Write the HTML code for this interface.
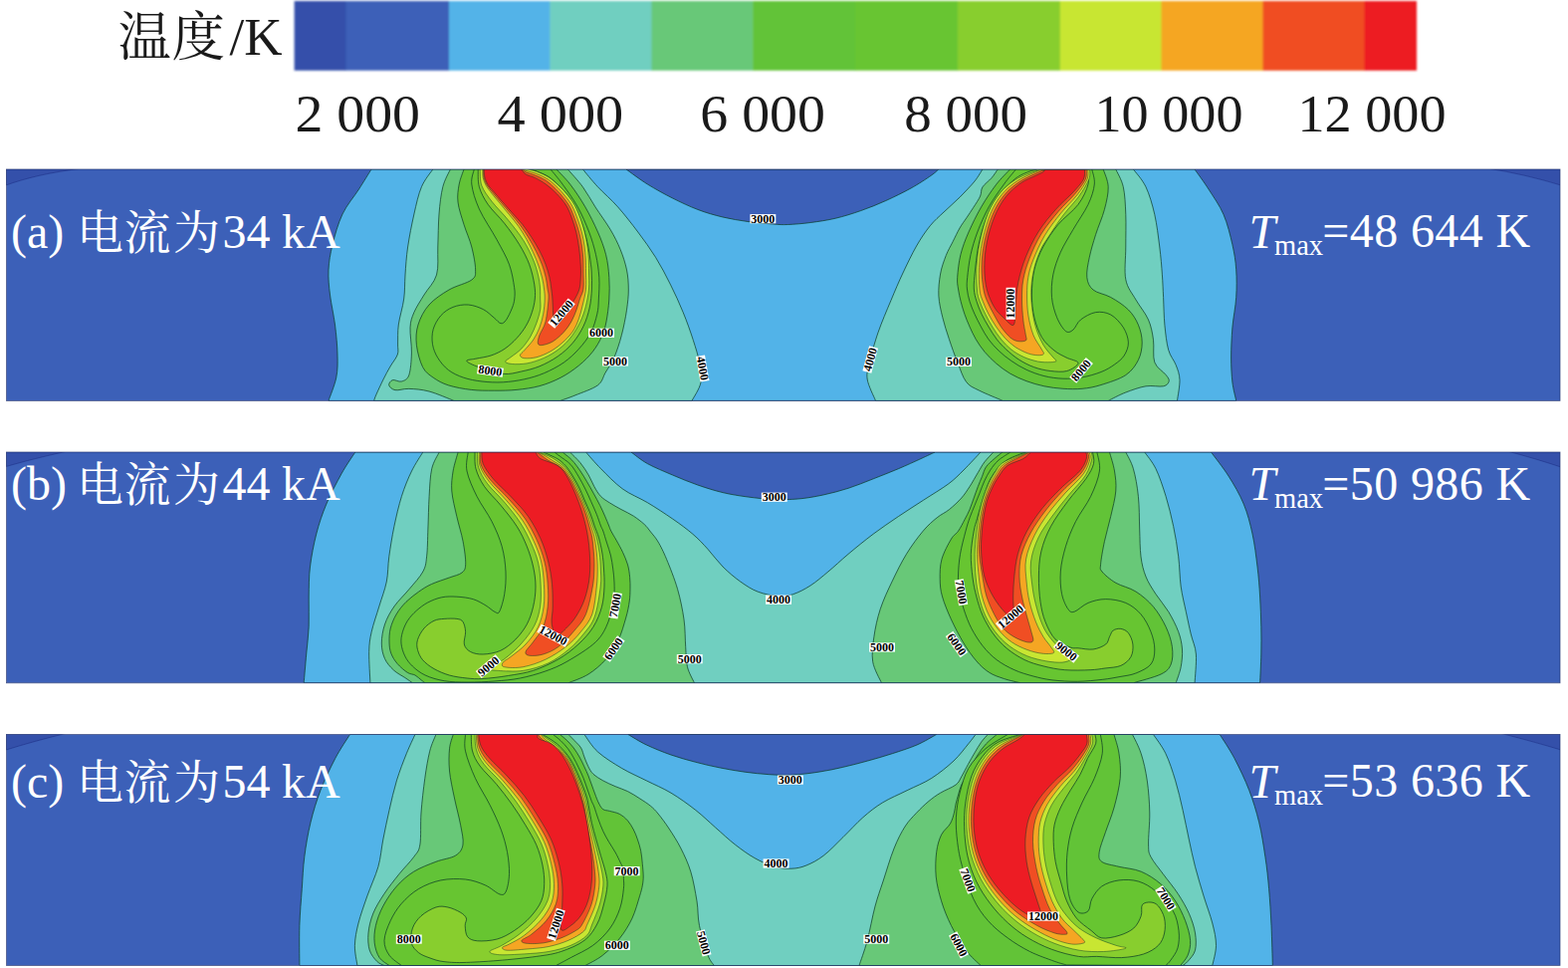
<!DOCTYPE html>
<html><head><meta charset="utf-8"><title>fig</title><style>html,body{margin:0;padding:0;background:#fff}body{width:1575px;height:972px;overflow:hidden;font-family:"Liberation Serif",serif}svg{display:block}text{font-family:"Liberation Serif",serif}</style></head><body>
<svg width="1575" height="972" viewBox="0 0 1575 972">
<defs>
<filter id="bl" x="-5%" y="-20%" width="110%" height="140%"><feGaussianBlur stdDeviation="0.8"/></filter>
</defs>
<rect width="1575" height="972" fill="#fff"/>
<g filter="url(#bl)">
<rect x="295.6" y="1" width="52.5" height="69.8" fill="#3450AA"/>
<rect x="347.6" y="1" width="103.9" height="69.8" fill="#3C60B8"/>
<rect x="451" y="1" width="101.9" height="69.8" fill="#52B3E8"/>
<rect x="552.4" y="1" width="102.6" height="69.8" fill="#70CFC0"/>
<rect x="654.5" y="1" width="102.2" height="69.8" fill="#68C878"/>
<rect x="756.2" y="1" width="103.3" height="69.8" fill="#62C337"/>
<rect x="859" y="1" width="103.4" height="69.8" fill="#67C531"/>
<rect x="961.9" y="1" width="103.4" height="69.8" fill="#88CE2E"/>
<rect x="1064.8" y="1" width="102.2" height="69.8" fill="#C8E632"/>
<rect x="1166.5" y="1" width="102.5" height="69.8" fill="#F5A623"/>
<rect x="1268.5" y="1" width="102.5" height="69.8" fill="#F04E23"/>
<rect x="1370.5" y="1" width="52.5" height="69.8" fill="#ED1C24"/>
</g>
<text x="118.5 172.5" y="56.2" font-size="53.5" fill="#1a1a1a" style="font-family:'Liberation Serif','Noto Serif CJK SC',serif">温度</text>
<text x="230.5" y="54.6" font-size="53" fill="#1a1a1a" xml:space="preserve">/K</text>
<text x="296.5" y="132.4" font-size="53" fill="#1a1a1a" textLength="125.5" lengthAdjust="spacingAndGlyphs" xml:space="preserve">2 000</text>
<text x="499.5" y="132.4" font-size="53" fill="#1a1a1a" textLength="126.8" lengthAdjust="spacingAndGlyphs" xml:space="preserve">4 000</text>
<text x="703.3" y="132.4" font-size="53" fill="#1a1a1a" textLength="125.6" lengthAdjust="spacingAndGlyphs" xml:space="preserve">6 000</text>
<text x="908.2" y="132.4" font-size="53" fill="#1a1a1a" textLength="123.8" lengthAdjust="spacingAndGlyphs" xml:space="preserve">8 000</text>
<text x="1099.5" y="132.4" font-size="53" fill="#1a1a1a" textLength="149" lengthAdjust="spacingAndGlyphs" xml:space="preserve">10 000</text>
<text x="1303.5" y="132.4" font-size="53" fill="#1a1a1a" textLength="149" lengthAdjust="spacingAndGlyphs" xml:space="preserve">12 000</text>
<clipPath id="cp0"><rect x="6.5" y="170" width="1560.5" height="232.4"/></clipPath>
<g clip-path="url(#cp0)">
<rect x="6.5" y="170" width="1560.5" height="232.4" fill="#3C60B8"/>
<path d="M373 170C370.9 173.3 365.3 182.5 360.5 190C355.7 197.5 348.4 205.7 344 215C339.6 224.3 336.3 236.3 334 245.6C331.7 254.9 330.4 262.6 330 271C329.6 279.4 330.4 286.8 331.5 296C332.6 305.2 335.2 316 336.5 326C337.8 336 338.8 347.2 339 356C339.2 364.8 339.3 371.3 337.8 379C336.3 386.7 331.3 398.5 330 402.4L1241.7 402.4C1241.1 399.3 1238.8 391.2 1237.9 384C1237.1 376.8 1236.6 368.2 1236.6 359C1236.6 349.8 1237.1 338.8 1237.9 328.7C1238.8 318.6 1241.1 308.1 1241.7 298.5C1242.3 288.9 1242.3 279.6 1241.7 270.8C1241.1 262 1240 254.8 1237.9 245.6C1235.8 236.4 1233 224.7 1229 215.4C1225 206.1 1218.8 197.6 1214 190C1209.2 182.4 1202.3 173.3 1200 170Z" fill="#52B3E8" stroke="#0b3a26" stroke-width="0.85" stroke-opacity="0.85"/>
<path d="M629 170C632.6 172.5 642.6 180.2 650.4 185C658.2 189.8 667.2 194.8 675.6 199C684 203.2 692.4 207.2 700.8 210.4C709.2 213.6 717.6 216 726 218C734.4 220 742.8 221.3 751.2 222.5C759.6 223.7 769.7 224.5 776.4 225C783.1 225.5 785.2 225.8 791.5 225.5C797.8 225.2 806.2 224.6 814.2 223.5C822.2 222.4 831 221.2 839.4 219.2C847.8 217.2 856.2 214.5 864.6 211.6C873 208.7 881.4 205.3 889.8 201.5C898.2 197.7 907.4 193.2 915 189C922.6 184.8 930.6 179.5 935.2 176.3C939.8 173.1 941.5 171.1 942.7 170Z" fill="#3C60B8" stroke="#0b3a26" stroke-width="0.85" stroke-opacity="0.85"/>
<path d="M434.8 170C432.9 172.9 426.5 180.2 423.4 187.7C420.2 195.2 418.2 204.9 415.9 215C413.6 225.1 411.1 237.8 409.6 248C408.1 258.2 407.6 267.3 407 276C406.4 284.7 406.8 291.7 405.7 300C404.6 308.3 401.3 318.5 400.3 326C399.3 333.5 399.8 340 399.6 345C399.4 350 400.6 352.2 399.3 356C398 359.8 394.4 363.8 392 368C389.6 372.2 387.3 376.3 385 381C382.7 385.7 379.6 392.4 378 396C376.4 399.6 376 401.3 375.6 402.4L695 402.4C696.5 399.4 702.6 390.7 703.9 384.3C705.2 377.9 703.9 371.2 702.6 364.1C701.3 357 699 349.9 696.3 341.5C693.6 333.1 690 322.9 686.2 313.7C682.4 304.4 678.2 295.2 673.6 286C669 276.8 664 267.1 658.5 258.3C653 249.5 647.1 241.4 640.8 233C634.5 224.6 627.4 215.5 620.7 207.9C614 200.3 606.4 194 600.5 187.7C594.6 181.4 587.9 172.9 585.4 170Z" fill="#70CFC0" stroke="#0b3a26" stroke-width="0.85" stroke-opacity="0.85"/>
<path d="M1138.4 170C1140.5 172.9 1147.4 180.1 1151 187.7C1154.6 195.3 1157.5 205.3 1159.8 215.4C1162.1 225.5 1163.5 237.9 1164.8 248C1166.1 258.1 1166.8 267.4 1167.4 275.8C1168 284.2 1168.2 290.1 1168.6 298.5C1169 306.9 1169.1 317.4 1169.9 326.2C1170.8 335 1171.8 344.7 1173.7 351.4C1175.6 358.1 1179.3 361.5 1181.2 366.5C1183.1 371.5 1184.8 375.6 1185 381.6C1185.2 387.6 1182.9 398.9 1182.5 402.4L879.5 402.4C878.1 398.8 872.2 387.4 871.2 381C870.2 374.6 871.6 371.9 873.4 364C875.2 356.1 878.4 344.3 882 333.9C885.6 323.5 890.8 311.5 895 301.5C899.2 291.5 902.7 283.1 907 274C911.3 264.9 916.1 254.9 920.6 247C925.1 239.1 929.7 232.4 934.3 226.7C938.9 221 943 217.8 948 213C953 208.2 958.9 203.2 964 198.1C969.1 192.9 975.1 186.8 978.9 182.1C982.7 177.4 985.6 172 986.9 170Z" fill="#70CFC0" stroke="#0b3a26" stroke-width="0.85" stroke-opacity="0.85"/>
<path d="M452.4 170C451.1 172.9 446.7 180.2 444.8 187.7C442.9 195.2 441.8 204.9 441 215C440.2 225.1 440.2 237.8 439.8 248C439.4 258.2 440.8 268 438.5 276C436.2 284 429.8 289.7 426 296C422.2 302.3 418.2 308.2 415.9 313.6C413.6 319.1 412.4 322 412 328.7C411.6 335.4 413.6 346 413.4 354C413.2 362 412.5 371.8 410.8 376.6C409.1 381.4 406 382.2 403.3 383C400.6 383.8 396.6 381 394.5 381.6C392.4 382.2 390.3 385 390.7 386.7C391.1 388.4 393.6 391.1 397 391.7C400.4 392.3 405.1 390.2 410.8 390.4C416.5 390.6 423.5 391 431 393C438.5 395 451.8 400.8 456 402.4L562.7 402.4C565.2 401.5 571.5 399.5 577.8 396.9C584.1 394.3 595.5 390.6 600.5 386.8C605.5 383 605.4 378.8 608.1 374.2C610.8 369.6 614.2 365.3 616.9 359C619.6 352.7 622.3 344.4 624.4 336.4C626.5 328.4 628.4 318.8 629.5 311.2C630.6 303.6 631.3 297.7 631.3 291C631.3 284.3 630.9 277.6 629.5 270.9C628.1 264.2 625.9 257.4 623.2 250.7C620.5 244 617.3 237.6 613.1 230.5C608.9 223.4 602.6 215 598 207.9C593.4 200.8 590 194 585.4 187.7C580.8 181.4 572.8 172.9 570.3 170Z" fill="#68C878" stroke="#0b3a26" stroke-width="0.85" stroke-opacity="0.85"/>
<path d="M1120.8 170C1122 172.9 1126.6 180.1 1128.3 187.7C1130 195.3 1130.4 205.3 1130.8 215.4C1131.2 225.5 1130.8 237.1 1130.8 248C1130.8 258.9 1129.1 271.9 1130.8 280.7C1132.5 289.5 1137.1 294.2 1140.9 300.9C1144.7 307.6 1150.6 314.3 1153.5 321C1156.4 327.7 1157.5 334.1 1158.5 341.2C1159.5 348.3 1157.7 357.9 1159.8 363.8C1161.9 369.7 1168.7 373.2 1171.1 376.4C1173.5 379.5 1174.6 380.8 1174.2 382.7C1173.8 384.6 1172.5 386.9 1168.6 387.8C1164.7 388.7 1157.3 386.8 1151 387.8C1144.7 388.8 1137.1 391.6 1130.8 394C1124.5 396.4 1116.1 401 1113.2 402.4L1007.3 402.4C1003.3 400.7 989.6 395.2 983.5 392.1C977.4 389 974.2 388.2 970.6 383.5C967 378.8 964.8 371.3 961.9 364.1C959 356.9 955.8 347.9 953.3 340.3C950.8 332.7 948.5 325.9 946.8 318.7C945.1 311.5 943.3 304.5 942.9 297.2C942.5 289.9 943.4 281.8 944.6 275C945.8 268.2 948.2 261.8 950.3 256.4C952.4 251 954.8 247.3 957.1 242.7C959.4 238.1 961.7 233 964 229C966.3 225 968.6 222.1 970.9 218.7C973.2 215.3 975.4 212 977.7 208.4C980 204.8 983.1 200.4 984.6 197C986.1 193.6 985 191 986.9 187.9C988.8 184.8 993.4 181.7 996 178.7C998.6 175.7 1001.2 171.4 1002.3 170Z" fill="#68C878" stroke="#0b3a26" stroke-width="0.85" stroke-opacity="0.85"/>
<path d="M466 170C465.2 172.5 462.2 179.5 461.2 185C460.2 190.5 459.2 196.2 460 203C460.8 209.8 463.7 218 466 225.5C468.3 233 471.9 240.4 473.8 248C475.7 255.6 477.6 265.3 477.6 270.8C477.6 276.3 478.2 277.6 473.8 281C469.4 284.4 458.1 286.8 451 291C443.9 295.2 436.2 300.2 431 306C425.8 311.8 422.1 319.3 420 326C417.9 332.7 417.6 339.3 418.4 346.4C419.2 353.5 421.8 363.1 424.6 368.6C427.4 374.1 430.9 376.1 435.2 379.2C439.5 382.2 444.1 384.9 450.5 386.9C456.9 388.9 465.7 390.5 473.3 391.4C480.9 392.3 488.6 392.2 496.2 392.2C503.8 392.2 511.4 392.2 519 391.4C526.6 390.6 534.5 389.6 541.9 387.6C549.3 385.6 556.6 382.6 563.2 379.2C569.8 375.8 576.2 371.3 581.5 367C586.8 362.7 591.4 358.1 595.2 353.3C599 348.5 602.1 343.1 604.4 338C606.7 332.9 607.8 329.1 609 322.9C610.2 316.7 611.3 308.4 611.8 301C612.3 293.6 612.3 285.9 611.8 278.4C611.3 270.8 610.5 263.3 608.6 255.7C606.7 248.1 604 241 600.5 233C597 225 592.5 215.9 587.9 207.9C583.3 199.9 577.6 191.5 572.8 185.2C568 178.9 561.2 172.5 558.9 170Z" fill="#62C337" stroke="#0b3a26" stroke-width="0.85" stroke-opacity="0.85"/>
<path d="M476.3 170C475.9 172.5 473 178.3 473.8 185C474.6 191.7 477.2 200.7 481.4 210C485.6 219.3 494 231.3 499 240.6C504 249.9 508.7 257.8 511.6 265.8C514.5 273.8 515.7 282.7 516.6 288.4C517.5 294.1 517.1 296.6 516.8 300C516.4 303.4 515.9 305.4 514.5 309C513.1 312.6 510.3 318.7 508.4 321.3C506.5 323.9 505 325.1 503 324.7C501 324.3 499.1 321.3 496.2 319C493.3 316.7 489.8 312.9 485.5 310.7C481.2 308.5 475.4 306.4 470.3 306C465.2 305.6 459.6 306.6 455 308.4C450.4 310.2 446.2 313.1 442.9 316.8C439.6 320.5 436.6 325.7 435.2 330.5C433.8 335.3 433.7 340.9 434.5 345.7C435.3 350.5 437.1 355.1 439.8 359.4C442.5 363.7 446.2 368.3 450.5 371.6C454.8 374.9 460.1 377.3 465.7 379.2C471.3 381.1 477.4 382.2 484 383C490.6 383.8 498.2 384.2 505.3 383.8C512.4 383.4 519.8 382.3 526.7 380.8C533.6 379.3 539.9 377.5 546.5 374.7C553.1 371.9 560.5 368.1 566.3 364C572.1 359.9 576.9 355.4 581.5 350.3C586.1 345.2 590.7 339.4 593.7 333.5C596.8 327.6 598.5 320.6 599.8 315.2C601.1 309.8 601 307.1 601.3 301C601.6 294.9 602.3 285.9 601.8 278.4C601.3 270.8 600.2 263.3 598.5 255.7C596.8 248.1 594.7 241 591.7 233C588.7 225 584.7 215.9 580.3 207.9C575.9 199.9 569.8 191.5 565.2 185.2C560.7 178.9 555 172.5 553 170Z" fill="#67C531" stroke="#0b3a26" stroke-width="0.85" stroke-opacity="0.85"/>
<path d="M480.2 170C480.4 172.9 479.7 181.8 481.4 187.7C483.1 193.6 486 199.2 490.2 205.3C494.4 211.4 501.4 217.5 506.6 224.2C511.9 230.9 517.5 238.7 521.7 245.6C525.9 252.5 529.3 259.1 531.8 265.8C534.3 272.5 535.9 280.2 536.8 285.9C537.7 291.6 537.7 295.4 537.3 300C536.9 304.6 535.8 309.1 534.3 313.7C532.8 318.3 530.8 323.1 528.2 327.4C525.7 331.7 522.5 335.8 519 339.6C515.5 343.4 511.2 347.4 506.9 350.3C502.6 353.2 497.9 355.4 493.1 357C488.3 358.6 481.9 359.3 477.9 360.2C473.8 361.1 468.3 361.1 468.8 362.5C469.3 363.9 474.9 366.5 481 368.6C487.1 370.8 498.2 374.7 505.3 375.4C512.4 376.1 517.5 374.3 523.6 373C529.7 371.7 535.8 370.3 541.9 367.8C548 365.3 554.6 361.8 560.2 357.9C565.8 354 571.1 349.3 575.4 344.2C579.7 339.1 583.3 333.3 586.1 327.4C588.9 321.5 590.8 315.2 592.2 309C593.6 302.8 594.1 296 594.4 290C594.7 284 594.5 278.3 594.2 273C593.9 267.7 593.1 262.5 592.5 258C591.9 253.5 591.4 250.3 590.5 246C589.6 241.7 588.3 236.5 587 232C585.7 227.5 584.2 223.4 582.5 219C580.8 214.6 578.7 209.5 576.5 205.5C574.3 201.5 572.1 198.2 569.5 195C566.9 191.8 564.1 188.9 561 186C557.9 183.1 554.6 179.8 551 177.5C547.4 175.2 542.8 173.4 539.5 172.2C536.2 170.9 532.4 170.4 531 170Z" fill="#88CE2E" stroke="#0b3a26" stroke-width="0.85" stroke-opacity="0.85"/>
<path d="M482.2 170C482.5 172.7 481.9 181 483.9 186.4C485.9 191.8 489.6 196.6 494 202.3C498.4 208.1 505.1 214.3 510.4 220.9C515.7 227.5 521.6 234.7 526 241.8C530.4 248.9 534.1 256.8 536.8 263.7C539.4 270.6 540.9 277.3 541.9 283.4C542.9 289.4 542.6 295.4 542.7 300C542.8 304.6 543.3 306.6 542.7 310.7C542.1 314.8 540.5 319.8 538.9 324.4C537.2 328.9 535.3 333.7 532.8 338C530.2 342.3 526.9 346.9 523.6 350.3C520.3 353.8 515.7 356.6 513 358.7C510.3 360.8 507.4 362.1 507.6 363.2C507.9 364.3 510.8 365.2 514.5 365.5C518.2 365.8 524.4 365.8 529.7 364.8C535 363.8 541.2 361.8 546.5 359.4C551.8 357 557.1 353.9 561.7 350.3C566.3 346.7 570.4 342.6 573.9 338C577.4 333.4 580.6 328 583 322.9C585.4 317.8 587 313.1 588.4 307.6C589.8 302.1 591 295.8 591.5 290C592 284.2 591.5 278 591.5 273C591.5 268 591.5 264.3 591.3 260C591 255.7 590.7 251.4 590 247C589.3 242.6 588.4 237.9 587.3 233.5C586.2 229.1 584.9 224.8 583.3 220.3C581.7 215.8 579.6 210.5 577.5 206.5C575.4 202.5 573.1 199.6 570.5 196.3C567.9 193.1 565.2 190 562 187C558.8 184 555.2 180.7 551.5 178.3C547.8 175.9 543.1 173.9 539.5 172.5C535.9 171.1 531.6 170.4 530 170Z" fill="#C8E632" stroke="#0b3a26" stroke-width="0.6" stroke-opacity="0.8"/>
<path d="M484.8 170C484.9 171.4 484.6 175.8 485.2 178.5C485.8 181.2 486.8 183.8 488.3 186.5C489.8 189.2 492.1 191.8 494.3 194.7C496.6 197.6 498.9 200.3 501.8 203.8C504.7 207.3 508.3 211.6 511.5 215.5C514.7 219.4 518.1 223.3 521 227.5C523.9 231.7 526.6 236.2 529 240.5C531.4 244.8 533.5 249.1 535.5 253.5C537.5 257.9 539.5 262.6 541 267C542.5 271.4 543.9 276.2 544.8 280C545.7 283.8 546.1 286.7 546.5 290C546.9 293.3 547.3 295.8 547.2 300C547.1 304.2 546.6 310.4 545.7 315.2C544.8 320 543.5 324.7 541.9 329C540.2 333.3 538.3 337.2 535.8 341C533.3 344.8 528.9 349.2 526.7 351.8C524.5 354.4 522.4 355.4 522.4 356.7C522.4 358 524 359.4 526.7 359.7C529.5 360 534.6 359.8 538.9 358.7C543.2 357.6 548.3 355.4 552.6 353C556.9 350.6 561 347.6 564.8 344.2C568.6 340.8 572.6 336.9 575.4 332.8C578.2 328.7 579.9 324.3 581.5 319.8C583.1 315.3 584.1 311 585.3 306C586.5 301 588 295.5 588.5 290C589 284.5 588.5 278 588.5 273C588.5 268 588.5 264.3 588.3 260C588 255.7 587.6 251.3 587 247C586.4 242.7 585.6 238.3 584.5 234C583.4 229.7 582.1 225.4 580.5 221C578.9 216.6 577 211.4 575 207.5C573 203.6 570.7 200.7 568.2 197.5C565.7 194.3 563 191.2 560 188.3C557 185.4 553.6 182.1 550 179.8C546.4 177.5 542.1 175.7 538.5 174.3C534.9 172.9 530.6 172.2 528.5 171.5C526.4 170.8 526.4 170.2 526 170Z" fill="#F5A623" stroke="#0b3a26" stroke-width="0.6" stroke-opacity="0.8"/>
<path d="M485.5 170C485.6 171.3 485.4 175.3 486 178C486.6 180.7 487.6 183.3 489.2 186C490.8 188.7 493.1 191.2 495.4 194C497.7 196.8 500.1 199.6 503 203C505.9 206.4 509.7 210.7 513 214.6C516.3 218.5 519.7 222.3 522.8 226.5C525.9 230.7 528.8 235.2 531.4 239.5C534 243.8 536.3 248.1 538.5 252.5C540.7 256.9 542.9 261.6 544.5 266C546.1 270.4 547.4 275 548.3 279C549.2 283 549.5 286.5 550 290C550.5 293.5 551.3 294.5 551 300C550.7 305.5 549.5 316.8 548 322.9C546.5 329 543.2 332.9 541.9 336.6C540.6 340.3 539.9 343.4 540.4 345C540.9 346.6 542.5 346.9 545 346.5C547.5 346.1 552.1 344.9 555.6 342.7C559.1 340.5 563.2 336.8 566.3 333.5C569.3 330.2 571.8 326.7 573.9 322.9C576 319.1 577.8 314.5 579.2 310.7C580.6 306.9 581.4 303.4 582.5 300C583.6 296.6 585.4 294.5 586 290C586.6 285.5 586 278 586 273C586 268 586 264.5 585.8 260.2C585.5 255.9 585.1 251.6 584.5 247.3C583.9 243 583.1 238.8 582 234.5C580.9 230.2 579.6 226 578 221.6C576.4 217.2 574.5 211.8 572.5 208C570.5 204.2 568.4 201.6 566 198.5C563.6 195.4 560.9 192.4 558 189.5C555.1 186.6 551.9 183.6 548.5 181.3C545.1 179.1 540.9 177.4 537.5 176C534.1 174.6 530.1 173.8 528 172.8C525.9 171.8 525.5 170.5 525 170Z" fill="#F04E23" stroke="#0b3a26" stroke-width="0.6" stroke-opacity="0.8"/>
<path d="M486.3 170C486.4 171.3 486.2 175.3 486.9 177.9C487.5 180.5 488.6 183 490.2 185.6C491.8 188.2 494.2 190.5 496.6 193.3C499 196.1 501.3 198.9 504.3 202.3C507.3 205.7 511.2 210 514.6 213.9C518 217.8 521.7 221.4 524.9 225.5C528.1 229.6 531.1 234 533.9 238.3C536.7 242.6 539.2 246.7 541.6 251.2C544 255.7 546.3 260.8 548 265.3C549.7 269.8 550.9 274.1 551.9 278.2C552.9 282.3 553.3 286.4 553.8 290C554.3 293.6 554.6 295.8 554.9 300C555.2 304.2 555.4 310.5 555.6 315.2C555.9 319.9 554.6 327.7 556.4 328.2C558.2 328.7 563.6 321.7 566.3 318.3C569 314.9 570.5 310.7 572.4 307.6C574.3 304.6 575.9 302.9 577.5 300C579.1 297.1 581 293.7 582 290C583 286.3 583.1 282.1 583.3 278C583.5 273.9 583.5 270.3 583.2 265.6C582.9 260.9 582.4 254.9 581.7 249.6C581 244.3 580.1 238.8 578.9 233.6C577.7 228.4 576 223.3 574.3 218.7C572.6 214.1 571.1 210.1 568.6 206.1C566.1 202.1 562.6 198.1 559.4 194.7C556.1 191.3 552.7 188.3 549.1 185.6C545.5 182.9 541.1 180.4 537.7 178.7C534.3 177 530.8 176.5 528.6 175.3C526.4 174.1 525.3 172.2 524.6 171.3C523.9 170.4 524.3 170.2 524.2 170Z" fill="#ED1C24" stroke="#0b3a26" stroke-width="0.6" stroke-opacity="0.8"/>
<path d="M1108.2 170C1109 172.9 1113 181 1113.2 187.7C1113.4 194.4 1111.5 202.4 1109.4 210.4C1107.3 218.4 1103.1 227.5 1100.6 235.5C1098.1 243.5 1095.8 251 1094.3 258.2C1092.8 265.3 1091.2 272.9 1091.8 278.4C1092.4 283.9 1094 287.6 1098 291C1102 294.4 1109.8 295.2 1115.7 298.5C1121.6 301.8 1128.8 306.4 1133.4 311C1138 315.6 1141.1 320.7 1143.4 326.2C1145.7 331.7 1147.2 338 1147.2 343.9C1147.2 349.8 1146.1 356.1 1143.4 361.5C1140.7 366.9 1137 372.4 1130.8 376.6C1124.6 380.8 1113.3 384.2 1106 386.5C1098.7 388.8 1093.3 389.7 1087 390.3C1080.7 390.9 1074.2 390.7 1067.9 390.3C1061.6 389.9 1055 389.1 1048.9 387.8C1042.8 386.5 1036.8 384.8 1031.1 382.7C1025.4 380.6 1019.7 378.1 1014.6 375.1C1009.5 372.1 1004.8 368.5 1000.6 364.9C996.4 361.3 992.6 357.5 989.2 353.5C985.8 349.5 982.8 345 980.3 340.8C977.8 336.6 975.9 332.3 974 328.1C972.1 323.9 970.4 319.6 968.9 315.4C967.4 311.2 966.2 306.9 965.1 302.7C964 298.5 963.1 294.1 962.5 290C961.9 285.9 961.3 284.1 961.7 278.4C962.1 272.7 963 263.3 964.9 255.7C966.8 248.1 969.5 241 973 233C976.5 225 981 215.9 985.6 207.9C990.2 199.9 995.9 191.5 1000.7 185.2C1005.5 178.9 1012.3 172.5 1014.6 170Z" fill="#62C337" stroke="#0b3a26" stroke-width="0.85" stroke-opacity="0.85"/>
<path d="M1096.8 170C1097.2 172.5 1099.9 179.1 1099.3 185C1098.7 190.9 1096.6 197.7 1093 205.3C1089.4 212.9 1082.5 222.5 1077.9 230.5C1073.3 238.5 1068.7 245.6 1065.3 253.2C1061.9 260.8 1059.3 268.2 1057.8 275.8C1056.3 283.4 1055.9 291.4 1056.5 298.5C1057.1 305.6 1059.3 313 1061.6 318.7C1063.9 324.4 1067.7 330.4 1070.4 332.5C1073.1 334.6 1075.4 333.1 1077.9 331.2C1080.4 329.3 1081.7 323.9 1085.5 321C1089.3 318.1 1095.6 314.4 1100.6 313.6C1105.6 312.8 1111.1 313.5 1115.7 316C1120.3 318.5 1125.3 324.1 1128.3 328.7C1131.2 333.3 1133.2 339.1 1133.4 343.8C1133.6 348.5 1131.5 353.3 1129.2 357C1126.9 360.7 1123.4 363.2 1119.5 366C1115.6 368.8 1111.4 371.4 1106 373.5C1100.6 375.6 1093.3 377.8 1087 378.9C1080.7 380 1074.2 380.4 1067.9 380.2C1061.6 380 1055 379.1 1048.9 377.6C1042.8 376.1 1036.6 373.8 1031.1 371.3C1025.6 368.8 1020.5 365.6 1015.9 362.4C1011.2 359.2 1007 355.8 1003.2 352.2C999.4 348.6 996 344.8 993 340.8C990 336.8 987.7 332.3 985.4 328.1C983.1 323.9 980.9 319.6 979 315.4C977.1 311.2 975.3 306.9 974 302.7C972.7 298.5 971.8 294.1 971.4 290C971 285.9 971.1 284.1 971.7 278.4C972.3 272.7 973.3 263.3 975 255.7C976.7 248.1 978.8 241 981.8 233C984.8 225 988.8 215.9 993.2 207.9C997.6 199.9 1003.8 191.5 1008.3 185.2C1012.8 178.9 1018.5 172.5 1020.5 170Z" fill="#67C531" stroke="#0b3a26" stroke-width="0.85" stroke-opacity="0.85"/>
<path d="M1091.8 170C1092 172.5 1094.5 179.1 1093 185C1091.5 190.9 1088 198.6 1083 205.3C1078 212.1 1068.7 218.4 1062.8 225.5C1056.9 232.6 1051.7 240.4 1047.7 248C1043.7 255.6 1040.8 262.8 1038.9 270.8C1037 278.8 1036.4 288 1036.4 296C1036.4 304 1037.2 311.6 1038.9 318.7C1040.6 325.8 1043.2 333.2 1046.5 338.8C1049.8 344.4 1054.9 348.6 1059 352C1063.1 355.4 1067 356.9 1071 359C1075 361.1 1082.9 362.2 1083 364.5C1083.1 366.8 1076.3 371.2 1071.7 372.5C1067.1 373.8 1060.7 373.1 1055.2 372.5C1049.7 371.9 1044 370.6 1038.7 368.7C1033.4 366.8 1028.2 364.1 1023.5 361.1C1018.9 358.2 1014.5 354.4 1010.8 351C1007.1 347.6 1004.3 344.6 1001.3 340.8C998.3 337 995.5 332.3 993 328.1C990.5 323.9 988 319.6 986 315.4C984 311.2 982.3 306.9 981 302.7C979.7 298.5 978.6 294.9 978.3 290C978 285.1 978.8 278.3 979.3 273C979.8 267.7 980.4 262.5 981 258C981.6 253.5 982.1 250.3 983 246C983.9 241.7 985.2 236.5 986.5 232C987.8 227.5 989.2 223.4 991 219C992.8 214.6 994.8 209.5 997 205.5C999.2 201.5 1001.4 198.2 1004 195C1006.6 191.8 1009.4 188.9 1012.5 186C1015.6 183.1 1018.9 179.8 1022.5 177.5C1026.1 175.2 1030.7 173.4 1034 172.2C1037.3 170.9 1041.1 170.4 1042.5 170Z" fill="#88CE2E" stroke="#0b3a26" stroke-width="0.85" stroke-opacity="0.85"/>
<path d="M1094.6 170.5C1094.5 172.1 1095.6 175.7 1093.8 180.1C1092 184.5 1088 191.2 1083.7 197.2C1079.4 203.2 1073.2 209.1 1068.1 215.9C1063 222.7 1056.8 232.2 1053 238C1049.2 243.8 1047.7 245.5 1045.4 250.6C1043.1 255.7 1040.7 262 1039.1 268.3C1037.5 274.6 1036.3 281.7 1035.9 288.4C1035.5 295.1 1035.8 301.9 1036.6 308.6C1037.3 315.3 1038.5 322.4 1040.4 328.7C1042.3 335 1045.1 341.3 1048 346.4C1050.9 351.4 1055.8 356.3 1058 359C1060.2 361.7 1061.5 361.6 1061 362.4C1060.5 363.2 1058.3 363.6 1055.2 363.7C1052.1 363.8 1046.9 363.9 1042.5 363C1038.1 362.1 1033 360.6 1028.6 358.6C1024.2 356.6 1019.7 354 1015.9 351C1012.1 348 1008.9 344.6 1005.7 340.8C1002.5 337 999.4 332.3 996.8 328.1C994.1 323.9 991.9 319.6 989.8 315.4C987.7 311.2 985.5 306.8 984.1 302.7C982.7 298.6 982 296.7 981.5 291C981 285.3 980.5 276.3 981 268.3C981.5 260.3 982.3 252.1 984.2 243.1C986.1 234.1 989.1 222.3 992.5 214.1C995.9 205.9 999.8 199.4 1004.6 193.7C1009.4 187.9 1014.9 183.5 1021.5 179.6C1028.1 175.7 1040.4 172 1044.2 170.5Z" fill="#C8E632" stroke="#0b3a26" stroke-width="0.6" stroke-opacity="0.8"/>
<path d="M1092.8 170.5C1092.7 172.1 1093.8 175.9 1092 180.1C1090.2 184.3 1086.4 190 1082 195.7C1077.6 201.4 1071.1 207.2 1065.6 214.1C1060.1 220.9 1053.8 229 1049.2 236.8C1044.6 244.6 1040.6 253.8 1037.9 260.7C1035.2 267.6 1033.8 272.5 1032.8 278.4C1031.8 284.3 1031.6 289.7 1031.6 296C1031.6 302.3 1031.8 309.4 1032.8 316.1C1033.8 322.8 1035.7 330.6 1037.9 336.3C1040.1 342 1044.2 346.9 1045.9 350.1C1047.6 353.3 1048.9 354.3 1048.3 355.4C1047.7 356.5 1045.2 356.8 1042.5 356.7C1039.8 356.6 1036.2 356.2 1032.4 354.8C1028.6 353.4 1023.5 350.9 1019.7 348.4C1015.9 345.8 1012.7 342.9 1009.5 339.5C1006.3 336.1 1003.4 332.1 1000.6 328.1C997.9 324.1 995.2 319.6 993 315.4C990.8 311.2 988.8 306.8 987.3 302.7C985.8 298.6 984.6 296.7 984 291C983.4 285.3 983.1 276.3 983.5 268.3C983.9 260.3 984.6 251.9 986.5 243.1C988.4 234.3 991.3 223.4 994.6 215.4C997.9 207.4 1001.7 200.9 1006.4 195.2C1011.1 189.5 1016.3 185.2 1022.8 181.1C1029.3 177 1041.6 172.3 1045.4 170.5Z" fill="#F5A623" stroke="#0b3a26" stroke-width="0.6" stroke-opacity="0.8"/>
<path d="M1091.3 170.5C1091.1 172.1 1092.1 176.2 1090.3 180.1C1088.5 184 1084.7 188.8 1080.2 194.2C1075.7 199.6 1068.8 205.6 1063.1 212.4C1057.4 219.2 1050.7 227.2 1045.9 235C1041.1 242.8 1037.1 251.8 1034.1 259.5C1031.1 267.1 1029.1 274 1027.8 280.9C1026.5 287.8 1026.5 294.3 1026.5 301C1026.5 307.7 1027.2 315.3 1027.8 321.2C1028.4 327.1 1029.8 332.9 1030.3 336.3C1030.8 339.7 1031.8 340.8 1030.5 341.8C1029.2 342.9 1024.9 343.1 1022.2 342.6C1019.6 342.1 1017.4 341.2 1014.6 338.8C1011.9 336.4 1008.5 332.4 1005.7 328.5C1003 324.6 1000.4 319.7 998.1 315.4C995.8 311.1 993.4 306.8 991.7 302.7C990 298.6 989 296.7 988 291C987 285.3 985.9 276.3 986 268.3C986.1 260.3 987 251.7 988.8 243.1C990.6 234.5 993.4 224.4 996.6 216.6C999.8 208.8 1003.6 202.2 1008.2 196.5C1012.8 190.8 1017.6 186.8 1024 182.6C1030.4 178.4 1042.9 173.2 1046.7 171.3Z" fill="#F04E23" stroke="#0b3a26" stroke-width="0.6" stroke-opacity="0.8"/>
<path d="M1089.5 170.5C1089.3 172.1 1090.2 176.4 1088.3 180.1C1086.4 183.8 1082.8 187.7 1078.2 192.7C1073.6 197.7 1066.4 203.6 1060.5 210.3C1054.6 217 1047.9 225 1042.9 233C1037.9 241 1033.7 249.8 1030.3 258.2C1026.9 266.6 1024.5 275.4 1022.8 283.4C1021.1 291.4 1021 299 1020.2 306.1C1019.4 313.2 1020.3 324.1 1018.2 326.2C1016.1 328.3 1010.9 321.6 1007.7 318.7C1004.5 315.8 1001.5 313.2 998.8 308.6C996.1 304 993 297.6 991.3 290.9C989.6 284.2 988.8 276.3 988.8 268.3C988.8 260.3 989.6 251.5 991.3 243.1C993 234.7 995.6 225.5 998.8 217.9C1001.9 210.3 1005.8 203.4 1010.2 197.7C1014.6 192 1020.3 187.5 1025.3 183.9C1030.3 180.3 1036.6 178.2 1040.4 176.3C1044.2 174.4 1046.5 173.6 1048 172.6C1049.5 171.6 1049 170.8 1049.2 170.5Z" fill="#ED1C24" stroke="#0b3a26" stroke-width="0.6" stroke-opacity="0.8"/>
<path d="M6 169H83C50 173 25 179 6 186Z" fill="#3450AA" stroke="#1a2a80" stroke-width="0.7" stroke-opacity=".7"/>
<path d="M1568 169H1494C1520 173 1545 179 1568 186Z" fill="#3450AA" stroke="#1a2a80" stroke-width="0.7" stroke-opacity=".7"/>
</g>
<rect x="6.5" y="170" width="1560.5" height="232.4" fill="none" stroke="#1c2c6a" stroke-width="0.8" stroke-opacity="0.8"/>
<text x="11" y="248.5" font-size="48" fill="#fff" xml:space="preserve">(a)</text>
<text x="77 124.5 174" y="249.7" font-size="47" fill="#fff" style="font-family:'Liberation Serif','Noto Serif CJK SC',serif">电流为</text>
<text x="223.5" y="248.5" font-size="48" fill="#fff" xml:space="preserve">34</text>
<text x="283" y="248.5" font-size="48" fill="#fff" xml:space="preserve">kA</text>
<text x="1254.5" y="248.5" font-size="48" fill="#fff" font-style="italic" xml:space="preserve">T</text>
<text x="1280" y="256.1" font-size="28.5" fill="#fff" xml:space="preserve">max</text>
<text x="1328.3" y="248" font-size="48" fill="#fff" letter-spacing="0.38" xml:space="preserve">=48 644 K</text>
<clipPath id="cp1"><rect x="6.5" y="454" width="1560.5" height="231.8"/></clipPath>
<g clip-path="url(#cp1)">
<rect x="6.5" y="454" width="1560.5" height="231.8" fill="#3C60B8"/>
<path d="M356.8 454C354.5 457.6 347.8 467 343 475.7C338.2 484.4 332.1 495.9 327.9 506C323.7 516 320.5 525.5 317.8 536C315.1 546.5 312.8 558.5 311.5 569C310.2 579.5 310.4 588.9 310.2 599C310 609.1 310.6 619.7 310.2 629.4C309.8 639.1 308.5 647.6 307.7 657C306.9 666.4 305.6 681 305.2 685.8L1265.6 685.8C1265.8 681 1266.6 666.4 1266.8 657C1267 647.6 1267 639.1 1266.8 629.4C1266.6 619.7 1266.2 609.1 1265.6 599C1265 588.9 1264.3 579.5 1263 569C1261.7 558.5 1260.3 546.5 1258 536C1255.7 525.5 1253.2 515.7 1249.2 506C1245.2 496.3 1239.5 486.7 1234 478C1228.5 469.3 1219.4 458 1216.5 454Z" fill="#52B3E8" stroke="#0b3a26" stroke-width="0.85" stroke-opacity="0.85"/>
<path d="M634 454C636.7 455.9 643.5 461.8 650.4 465.6C657.3 469.4 667.2 473.4 675.6 477C684 480.6 692.4 484.1 700.8 487C709.2 489.9 717.6 492.6 726 494.6C734.4 496.6 742.8 497.9 751.2 499C759.6 500.1 768 501.1 776.4 501.4C784.8 501.7 793.2 501.7 801.6 501C810 500.3 818.4 498.8 826.8 497C835.2 495.2 843.6 493 852 490.3C860.4 487.6 868.8 484.1 877.2 480.8C885.6 477.5 894.4 474.1 902.4 470.7C910.4 467.3 918.9 463.4 925 460.6C931.1 457.8 936.7 455.1 939 454Z" fill="#3C60B8" stroke="#0b3a26" stroke-width="0.85" stroke-opacity="0.85"/>
<path d="M424.8 454C422.9 457.2 417.1 465.6 413.5 473C409.9 480.4 406.3 489.1 403.4 498.4C400.5 507.7 398 518.5 395.9 528.6C393.8 538.7 392.1 549.6 390.8 558.8C389.5 568 390 575.6 388.3 584C386.6 592.4 383.3 600.6 380.8 609C378.3 617.4 374.9 626.8 373.2 634.4C371.5 642 370.9 645.9 370.7 654.5C370.5 663.1 371.7 680.6 371.9 685.8L1200.1 685.8C1200.3 681 1202 665.1 1201.4 657C1200.8 648.9 1198 644.1 1196.3 637C1194.6 629.9 1193 622.2 1191.3 614.2C1189.6 606.2 1187.5 598.2 1186.2 589C1184.9 579.8 1185 568.9 1183.7 558.8C1182.5 548.7 1180.8 538.7 1178.7 528.6C1176.6 518.5 1174 508 1171.1 498.4C1168.1 488.8 1164.6 478.1 1161 470.7C1157.4 463.3 1151.6 456.8 1149.7 454L985 454C982.2 457 973.4 466.7 968 472C962.6 477.3 959.5 480.8 952.8 485.8C946.1 490.8 936 496.7 927.6 502.2C919.2 507.7 910.8 512.9 902.4 518.6C894 524.3 885.6 529.9 877.2 536.2C868.8 542.5 859.5 550.1 852 556.4C844.5 562.7 838.2 568.8 831.9 574C825.6 579.2 820.1 584.1 814.2 587.9C808.3 591.7 802.1 594.9 796.6 596.7C791.1 598.5 787.4 598.9 781.5 598.5C775.6 598.1 767.6 596.6 761.3 594.2C755 591.8 749.6 588.2 743.7 584C737.8 579.8 731.5 574.5 726 569C720.5 563.5 715.9 556.8 710.9 551.3C705.9 545.8 701.7 541.2 695.8 536.2C689.9 531.2 683.2 526.2 675.6 521C668 515.8 658.8 509.7 650.4 504.7C642 499.7 633 496.5 625.2 490.8C617.4 485.1 609.7 476.8 603.6 470.7C597.5 464.6 591 456.8 588.5 454Z" fill="#70CFC0" stroke="#0b3a26" stroke-width="0.85" stroke-opacity="0.85"/>
<path d="M441.2 454C439.9 456.8 435.4 463.3 433.7 470.7C432 478.1 431.7 488.3 431.1 498.4C430.5 508.4 430.3 520.9 429.9 531C429.5 541.1 429.5 551.6 428.6 558.8C427.8 566 427.7 568.5 424.8 574C421.9 579.5 415.8 585.8 411 591.6C406.2 597.4 400 603.1 395.9 609C391.8 614.9 388.6 620.8 386.5 627C384.4 633.2 383.3 640.3 383.3 646C383.3 651.7 384.5 656.9 386.5 661.4C388.5 665.9 392 669.7 395.4 672.9C398.8 676.1 403.6 678.4 406.8 680.5C410 682.6 413.1 684.9 414.4 685.8L697.5 685.8C696.3 683.1 692 675.8 690.5 669.8C689 663.8 689.3 657.6 688.7 649.6C688.1 641.6 688.4 631.6 687 621.9C685.6 612.2 683.5 601.7 680.6 591.6C677.7 581.5 672.8 569.3 669.5 561.4C666.2 553.5 663.7 548.6 661 544C658.3 539.4 655.8 536.9 653.5 534C651.2 531.1 650 529 647.1 526.4C644.2 523.8 640.2 520.7 636.4 518.2C632.6 515.7 628.1 513.8 624.1 511.6C620.1 509.4 616 507.2 612.6 505C609.2 502.8 606.1 501.1 603.5 498.4C600.9 495.7 598.9 492.2 596.9 488.6C594.9 485 593.5 481 591.2 477C588.9 473 586 468.5 582.9 464.7C579.8 460.9 574.2 455.8 572.5 454Z" fill="#68C878" stroke="#0b3a26" stroke-width="0.85" stroke-opacity="0.85"/>
<path d="M1130.8 454C1132.1 456.8 1136.3 463.3 1138.4 470.7C1140.5 478.1 1142.4 488.3 1143.4 498.4C1144.5 508.4 1144.3 520.9 1144.7 531C1145.1 541.1 1145 550.8 1146 558.8C1147 566.8 1148.5 572.7 1151 579C1153.5 585.3 1157.2 590.7 1161 596.6C1164.8 602.5 1169.9 607.9 1173.7 614.2C1177.5 620.5 1181.4 628.1 1183.7 634.4C1186 640.7 1187.1 646.1 1187.5 652C1187.9 657.9 1187.2 664.1 1186.2 669.7C1185.2 675.3 1182 683.1 1181.2 685.8L885.5 685.8C884 682.3 878 672.3 876.7 664.6C875.4 656.9 876.6 648.2 877.9 639.4C879.1 630.6 881.2 620.9 884.2 611.7C887.2 602.5 891.6 593.2 896 584C900.4 574.8 905.3 564.8 910.5 556.3C915.7 547.8 922.1 539.3 927.2 533.2C932.3 527.1 936.8 523.4 941.2 519.8C945.6 516.2 949.4 514.9 953.5 511.6C957.6 508.3 962.4 503.8 965.8 500C969.2 496.2 971.2 492.8 974 488.6C976.8 484.4 979.8 478.7 982.3 474.6C984.8 470.5 986.3 467.3 988.9 463.9C991.5 460.5 996.4 455.6 997.9 454Z" fill="#68C878" stroke="#0b3a26" stroke-width="0.85" stroke-opacity="0.85"/>
<path d="M460.1 454C459.3 457.2 456.2 466.5 455.1 473C454.1 479.5 453.2 485.4 453.8 493C454.4 500.6 456.9 510.1 458.8 518.5C460.7 527 463.6 535.7 465.1 543.7C466.6 551.7 467.9 561.2 467.7 566.4C467.5 571.6 466.7 572.7 464 575C461.3 577.3 456.4 578.1 451.3 580C446.2 581.9 438.6 584.2 433.5 586.5C428.4 588.8 425.1 591 420.8 594C416.6 597 411.8 600.5 408 604.3C404.2 608.1 400.6 612.5 398 617C395.4 621.5 393.4 626.3 392.2 631C391 635.7 390.9 640.8 391 645C391.1 649.2 391.5 652.7 392.9 656.3C394.3 659.9 396.4 663.3 399.2 666.5C401.9 669.7 406.4 673.5 409.4 675.4C412.4 677.3 414.7 676.7 417 678C419.3 679.3 421.6 681.7 423.3 683C425 684.3 426.4 685.3 427 685.8L570.8 685.8C574.2 684.3 584.7 681 591 677C597.3 673 603.6 667.7 608.6 662C613.6 656.3 617.6 650 621 643C624.4 636 626.9 626.5 628.8 620C630.7 613.5 631.5 608.7 632.2 604C632.9 599.3 632.9 595.8 633 591.7C633.1 587.6 633 583.5 632.6 579.4C632.2 575.3 631.7 571.1 630.5 567C629.3 562.9 627.5 558.8 625.6 554.7C623.7 550.6 621 545.9 619 542.3C617 538.7 615 535.6 613.8 533.2C612.6 530.8 612.7 530.6 611.7 528.1C610.7 525.6 609.1 521.6 607.6 518.2C606.1 514.8 604.6 511.3 602.7 507.5C600.8 503.7 598.3 499.2 596.1 495.2C593.9 491.2 591.7 487.3 589.5 483.6C587.3 479.9 585.4 476.5 582.9 472.9C580.4 469.3 577.4 465.1 574.7 462.2C572 459.2 568.1 456.6 566.5 455.2C564.9 453.8 565.2 454.2 565 454Z" fill="#62C337" stroke="#0b3a26" stroke-width="0.85" stroke-opacity="0.85"/>
<path d="M470.2 454C470 457.2 467.5 465.6 469 473C470.5 480.4 474.8 490 479 498.4C483.2 506.8 489.8 515.2 494 523.6C498.2 532 501.9 540.4 504.2 548.8C506.5 557.2 507.6 566 508 574C508.4 582 507.8 589.9 506.7 596.6C505.6 603.3 503.3 611 501.7 614C500.1 617 499.3 615.4 497 614.4C494.7 613.4 491.6 610.1 488 608C484.4 605.9 480.2 603.2 475.4 601.7C470.5 600.2 464.2 599.5 458.9 599.2C453.6 598.9 448.6 598.8 443.7 599.8C438.8 600.8 433.9 602.8 429.7 605C425.5 607.2 421.7 610.2 418.3 613.2C414.9 616.2 411.7 619.7 409.4 623.3C407.1 626.9 405.4 631 404.3 634.8C403.2 638.6 402.6 642.2 403 646.2C403.4 650.2 404.9 655.1 406.8 658.9C408.7 662.7 411 665.8 414.4 669C417.8 672.2 421.8 675.5 427.1 678C432.4 680.5 439.1 682.5 446.2 683.7C453.3 684.9 461.5 685 470 685C478.5 685 488.3 684.7 497 684C505.7 683.3 513.9 682.7 522.4 681C530.9 679.3 539.9 676.8 547.8 674C555.7 671.2 561.5 668.9 570 664C578.5 659.1 591.7 651.1 598.5 644.5C605.3 637.9 608 631.7 611 624.3C614 616.9 615.5 606.5 616.5 600C617.5 593.5 617.1 589.8 617 585C616.9 580.2 616.3 575.5 615.7 571C615.1 566.5 614.5 562.3 613.5 558C612.5 553.7 610.8 549.1 609.5 545C608.2 540.9 606.8 536 605.8 533.2C604.8 530.4 604.6 530.9 603.5 528.1C602.4 525.3 601 520.7 599.4 516.6C597.8 512.5 595.5 507.7 593.6 503.4C591.7 499.1 590 495.1 587.9 491C585.8 486.9 583.8 482.8 581.3 478.7C578.8 474.6 576.2 469.7 573 466.3C569.8 462.9 565 460.2 562.3 458.1C559.6 456.1 557.9 454.7 557 454Z" fill="#67C531" stroke="#0b3a26" stroke-width="0.85" stroke-opacity="0.85"/>
<path d="M477 454C477.2 456.8 476.4 465 478 470.7C479.6 476.4 482.3 482.2 486.4 488.3C490.5 494.4 497.3 500.5 502.8 507.2C508.3 513.9 514.8 521.7 519.2 528.6C523.6 535.5 526.6 542.1 529.3 548.8C532 555.5 534.1 562.3 535.6 569C537.1 575.7 538 582.3 538 589C538 595.7 537.1 602.9 535.6 609.2C534.1 615.5 532.2 621.3 529.3 626.8C526.3 632.3 522.3 637.6 517.9 642C513.5 646.4 508.2 650.8 502.8 653.3C497.4 655.8 490.2 656.8 485.2 657C480.2 657.2 475.8 656.2 472.6 654.5C469.5 652.8 467.1 650.4 466.3 647C465.5 643.6 467.8 638.2 467.6 634.4C467.4 630.6 466.4 626.6 465 624.4C463.6 622.2 462 621.9 458.9 621.4C455.8 620.9 450 621.1 446.2 621.4C442.4 621.7 439.4 621.7 436 623.3C432.6 624.9 428.6 627.8 425.9 631C423.1 634.2 420.6 638.8 419.5 642.4C418.4 646 418.6 649.1 419.5 652.5C420.4 655.9 421.9 659.5 424.6 662.7C427.4 665.9 431.6 669.1 436 671.6C440.4 674.1 445.8 676.4 451.3 678C456.8 679.6 463.4 680.4 469 681C474.6 681.6 478.1 681.9 485 681.5C491.9 681.1 502 679.9 510.4 678.5C518.8 677.1 527.2 676.1 535.6 673.4C544 670.6 553.2 666.4 560.8 662C568.3 657.6 575 652.4 580.9 647C586.8 641.6 592.1 635.7 596 629.4C599.9 623.1 602.7 615.9 604.5 609.2C606.3 602.5 606.7 595.4 607 589C607.3 582.6 606.8 576.5 606.5 571C606.2 565.5 605.8 561.2 605 556C604.2 550.8 602.8 544.7 601.5 540C600.2 535.3 598.7 532.2 597.2 528C595.8 523.8 594.5 519.3 592.8 515C591.1 510.7 588.9 506.2 587.1 502C585.3 497.8 583.8 493.7 582 490C580.2 486.3 578.5 483.3 576.5 480C574.5 476.7 572.4 473 570 470C567.6 467 564.8 464.1 562 462C559.2 459.9 555.7 458.6 553 457.3C550.3 456 546.8 454.6 545.6 454Z" fill="#88CE2E" stroke="#0b3a26" stroke-width="0.85" stroke-opacity="0.85"/>
<path d="M479.6 454C479.8 456.6 479 464.1 480.7 469.4C482.4 474.7 485.4 480.1 489.7 485.8C494 491.6 500.8 497.4 506.3 503.9C511.8 510.4 518 517.8 522.5 524.8C527 531.8 530.6 539 533.6 545.7C536.6 552.4 539 558.3 540.6 565.1C542.2 571.9 542.8 579.1 543.1 586.5C543.4 593.9 543.7 602.3 542.6 609.2C541.5 616.1 539.9 622 536.8 628.1C533.7 634.2 529 640.2 524.2 645.7C519.4 651.2 513.1 656.6 507.9 660.8C502.6 665 494 668.8 492.7 670.9C491.4 673 494.8 673 500.3 673.4C505.8 673.8 517.1 674.6 525.5 673.4C533.9 672.1 543.2 669.4 550.7 665.9C558.2 662.4 564.9 657.3 570.8 652.5C576.7 647.7 581.5 642.4 585.9 636.9C590.3 631.4 594.4 627.3 597.3 619.3C600.2 611.3 602.2 597 603.2 589C604.2 581 603.5 576.5 603.3 571C603.1 565.5 602.9 561.2 602.2 556C601.5 550.8 600.4 544.7 599.3 540C598.2 535.3 596.8 532.2 595.4 528C594 523.8 592.8 519.3 591.2 515C589.6 510.7 587.5 506.2 585.7 502C583.9 497.8 582.2 493.7 580.4 490C578.6 486.3 577 483.3 575 480C573 476.7 570.9 473 568.1 470C565.3 467 561.2 464.1 558.2 462C555.2 459.9 553 458.8 550.1 457.5C547.2 456.2 542.2 454.6 540.6 454Z" fill="#C8E632" stroke="#0b3a26" stroke-width="0.6" stroke-opacity="0.8"/>
<path d="M481.4 454C481.5 456.4 480.5 463.2 482.2 468.2C483.9 473.2 487.1 478.1 491.5 483.8C495.9 489.5 502.8 495.7 508.4 502.2C514 508.7 520.4 515.9 525 522.8C529.6 529.7 533.2 536.9 536.3 543.7C539.4 550.6 541.9 556.8 543.6 563.9C545.3 571 546 579 546.4 586.5C546.8 594 547.1 602.1 546.1 609.2C545.1 616.4 543.6 623.1 540.6 629.4C537.6 635.7 532.6 642 528 647C523.4 652 516.7 656.6 512.9 659.6C509.1 662.6 506.4 663.4 505.3 665.1C504.2 666.8 503.2 668.9 506.6 669.7C510 670.5 518.6 671 525.5 669.7C532.4 668.4 541.1 665.5 548.2 662.1C555.3 658.7 562.4 654.1 568.3 649.5C574.2 644.9 579 639.9 583.4 634.4C587.8 628.9 592.1 624.4 594.8 616.8C597.4 609.2 598.4 596.6 599.3 589C600.2 581.4 600.2 576.5 600.2 571C600.2 565.5 599.9 561.2 599.4 556C598.9 550.8 598.1 544.7 597.1 540C596.1 535.3 594.9 532.2 593.6 528C592.4 523.8 591.1 519.3 589.6 515C588.1 510.7 586.2 506.2 584.4 502C582.6 497.8 580.7 493.7 578.9 490C577.1 486.3 575.6 483.3 573.5 480C571.4 476.7 569.4 473 566.2 470C563 467 557.5 464.1 554.3 462C551.1 459.9 549.6 458.8 547.2 457.5C544.8 456.2 541.3 454.6 540.1 454Z" fill="#F5A623" stroke="#0b3a26" stroke-width="0.6" stroke-opacity="0.8"/>
<path d="M482.7 454C482.8 456.1 481.5 462.2 483.2 466.9C484.9 471.6 488.2 476.4 492.7 482C497.2 487.6 504.6 493.9 510.4 500.4C516.2 506.9 522.7 514 527.5 521C532.3 528 536.1 535.4 539.3 542.5C542.5 549.6 545.1 556.6 546.9 563.9C548.7 571.2 549.7 579 550.2 586.5C550.8 594 551 602.1 550.2 609.2C549.4 616.4 548 623.5 545.6 629.4C543.2 635.3 538.5 640.3 535.6 644.5C532.7 648.7 528.6 652.2 528 654.5C527.4 656.8 528.9 657.9 531.8 658.3C534.7 658.7 540.8 658.5 545.6 657C550.4 655.5 555.8 653.3 560.8 649.5C565.8 645.7 571.3 639.9 575.9 634.4C580.5 628.9 585.3 624.4 588.5 616.8C591.7 609.2 593.9 596.6 595.3 589C596.7 581.4 596.7 576.5 596.9 571C597.1 565.5 596.9 561.2 596.5 556C596.1 550.8 595.6 544.7 594.8 540C594 535.3 592.9 532.2 591.8 528C590.7 523.8 589.5 519.3 588 515C586.5 510.7 584.7 506.2 582.9 502C581.1 497.8 579.1 493.7 577.3 490C575.5 486.3 574.2 483.3 572 480C569.8 476.7 567.8 473 564.2 470C560.6 467 553.6 464.1 550.3 462C547 459.9 546 458.8 544.2 457.5C542.4 456.2 540.1 454.6 539.3 454Z" fill="#F04E23" stroke="#0b3a26" stroke-width="0.6" stroke-opacity="0.8"/>
<path d="M483.9 454C484.1 455.9 483.3 461.2 485.2 465.6C487.1 470.1 490.7 475.2 495.3 480.7C499.9 486.2 507 492.1 512.9 498.4C518.8 504.7 525.5 511.4 530.5 518.5C535.5 525.6 539.7 533.6 543.1 541.2C546.5 548.8 548.8 556.4 550.7 563.9C552.6 571.4 553.8 579 554.5 586.5C555.2 594 555.2 602.6 555.2 609.2C555.2 615.8 553.6 621.2 554.2 626C554.8 630.8 556.6 637.2 559 638C561.4 638.8 565.3 634.1 568.5 631C571.7 627.9 575.3 624.2 578.4 619.3C581.5 614.4 584.9 608.4 587.2 601.7C589.5 595 591.4 587 592.2 579C593 571 592.8 562.2 592.2 553.8C591.6 545.4 590.4 537 588.5 528.6C586.6 520.2 583.9 511.4 580.9 503.4C577.9 495.4 574.1 486.6 570.8 480.7C567.4 474.8 565.4 471.4 560.8 468C556.2 464.6 546.8 462.9 543 460.6C539.2 458.3 538.8 455.1 538 454Z" fill="#ED1C24" stroke="#0b3a26" stroke-width="0.6" stroke-opacity="0.8"/>
<path d="M1114.5 454C1115.3 457.2 1118.5 466.5 1119.5 473C1120.5 479.5 1121.4 485.4 1120.8 493C1120.2 500.6 1117.6 510.1 1115.7 518.5C1113.8 527 1111.1 535.7 1109.4 543.7C1107.7 551.7 1106 561.4 1105.6 566.4C1105.2 571.4 1104.5 570.9 1107 574C1109.5 577.1 1115.1 582 1120.8 585.3C1126.5 588.6 1134.6 590 1140.9 594C1147.2 598 1153.5 603.3 1158.5 609.2C1163.5 615.1 1167.9 622.7 1171.1 629.4C1174.2 636.1 1176.6 643.2 1177.4 649.5C1178.2 655.8 1178.1 662.4 1176.2 667C1174.3 671.6 1172.4 673.9 1166.1 677C1159.8 680.1 1143 684.3 1138.4 685.8L1025.2 685.8C1022.5 685.1 1014 683.4 1008.7 681.6C1003.4 679.8 998.1 678.2 993.5 675.2C988.9 672.2 985 668.7 980.8 663.8C976.6 658.9 972.3 653 968.1 646C963.9 639 959 629.7 955.4 621.9C951.8 614.1 948.4 605.7 946.5 599C944.6 592.3 944.3 587.8 944.2 581.5C944.1 575.2 944.1 568.1 946 561.4C947.9 554.7 952.7 545.9 955.5 541.2C958.3 536.5 960.3 536.5 962.6 533.2C964.9 529.9 967.2 525.1 969.1 521.5C971 517.9 972.5 515.2 974 511.6C975.5 508 976.8 503.8 978.2 500C979.6 496.2 980.9 492.2 982.3 488.6C983.7 485.1 985 482 986.4 478.7C987.8 475.4 988.4 471.8 990.5 468.8C992.6 465.8 996 463.1 998.8 460.6C1001.5 458.1 1005.6 455.1 1007 454Z" fill="#62C337" stroke="#0b3a26" stroke-width="0.85" stroke-opacity="0.85"/>
<path d="M1101.9 454C1102.3 457.2 1105.5 465.6 1104.4 473C1103.4 480.4 1099.6 490 1095.6 498.4C1091.6 506.8 1084.7 515.2 1080.5 523.6C1076.3 532 1072.9 540.4 1070.4 548.8C1067.9 557.2 1065.9 566 1065.3 574C1064.7 582 1065.3 590.3 1066.6 596.6C1067.9 602.9 1070.8 608.8 1072.9 611.7C1075 614.6 1075.9 615.2 1079.2 614.2C1082.5 613.2 1087.8 607.5 1093 605.4C1098.2 603.3 1104.4 601.6 1110.7 601.6C1117 601.6 1124.9 602.9 1130.8 605.4C1136.7 607.9 1141.8 612 1146 616.8C1150.2 621.6 1153.7 628.5 1156 634.4C1158.3 640.3 1159.8 646.6 1159.8 652C1159.8 657.4 1159.2 663 1156 667C1152.8 671 1146.1 673.9 1140.9 676C1135.7 678.1 1130.5 678.5 1125 679.5C1119.5 680.5 1114.9 681.5 1107.8 682.3C1100.7 683.1 1090.9 684.2 1082.4 684.3C1073.9 684.4 1064.4 683.8 1057 682.9C1049.6 682 1044.2 680.7 1037.9 679C1031.6 677.3 1025 675.5 1018.9 672.7C1012.8 670 1006.4 666.5 1001.1 662.5C995.8 658.5 991.3 653.9 987.1 648.6C982.9 643.3 978.9 636.9 975.7 630.8C972.5 624.6 970.2 618.2 968.1 611.7C966 605.2 964.1 597.6 963.2 592C962.3 586.4 962.3 584 962.5 578C962.7 572 963.2 563.8 964.5 556.3C965.8 548.8 968.4 539.3 970 533.2C971.6 527.1 972.6 524.1 974.1 519.8C975.6 515.5 977.4 511.6 979 507.5C980.6 503.4 982.4 499.3 984 495.2C985.6 491.1 987.1 486.6 988.9 482.8C990.7 479 992.4 475.5 994.7 472.1C997 468.7 999.5 465.2 1002.9 462.2C1006.3 459.2 1013 455.4 1015 454Z" fill="#67C531" stroke="#0b3a26" stroke-width="0.85" stroke-opacity="0.85"/>
<path d="M1097.5 454C1097.7 455.9 1099.6 461.2 1098.5 465.6C1097.4 470.1 1095.1 474.4 1090.8 480.7C1086.5 487 1078.4 495.4 1072.5 503.4C1066.6 511.4 1060 520.2 1055.5 528.6C1051 537 1047.8 545.4 1045.8 553.8C1043.8 562.2 1043.5 570.6 1043.4 579C1043.3 587.4 1043.9 596.7 1045 604.2C1046.1 611.8 1047.5 618 1050 624.3C1052.5 630.6 1055.8 637.6 1060 641.9C1064.2 646.2 1071.2 648.5 1075 650C1078.8 651.5 1079.2 650.5 1083 650.8C1086.8 651.1 1093.4 652.6 1098 652C1102.6 651.4 1108 649.1 1110.7 647C1113.5 644.9 1113.2 641.7 1114.5 639.4C1115.8 637.1 1116.3 634.3 1118.2 633C1120.1 631.7 1123.3 631 1125.8 631.4C1128.3 631.8 1131.4 633 1133.4 635.6C1135.4 638.2 1137.5 643 1137.9 647C1138.3 651 1137.9 656 1135.9 659.6C1133.9 663.2 1130.1 666.5 1125.8 668.4C1121.5 670.3 1115.1 670.3 1110 671C1104.9 671.7 1101.8 672.4 1095.1 672.7C1088.4 673 1077.5 673.3 1069.7 672.7C1061.9 672.1 1054.9 670.6 1048.1 668.9C1041.3 667.2 1035.1 665.5 1029 662.5C1022.9 659.5 1016.6 655.5 1011.3 651.1C1006 646.7 1001.3 641.4 997.3 635.9C993.3 630.4 989.9 624.2 987.1 618.1C984.4 612 982.5 605.4 980.8 599C979.1 592.6 977.9 587.1 977 580C976.1 572.9 975.1 564.1 975.3 556.3C975.5 548.5 977.2 539.1 978.2 533.2C979.2 527.3 980.3 525.1 981.5 520.7C982.7 516.3 984.2 511.2 985.6 506.7C987 502.2 988.2 497.8 989.7 493.5C991.2 489.2 992.7 485 994.7 481.2C996.8 477.4 999.3 473.7 1002 470.5C1004.7 467.3 1007.8 464.4 1011.1 462.2C1014.4 459.9 1018.7 458.4 1022 457C1025.3 455.6 1029.5 454.5 1031 454Z" fill="#88CE2E" stroke="#0b3a26" stroke-width="0.85" stroke-opacity="0.85"/>
<path d="M1032.3 454C1028.2 455.7 1013.5 460.7 1008 464.2C1002.5 467.7 1001.6 471.2 999 475C996.4 478.8 994.6 482.4 992.6 486.7C990.6 491 988.8 495.9 987.2 501C985.6 506.1 984.3 511.5 983.2 517.5C982.1 523.5 981.3 530.5 980.6 537C979.9 543.5 979.3 549.1 979.2 556.3C979.1 563.5 979.5 572.9 980.2 580C980.9 587.1 981.7 592.6 983.3 599C984.9 605.4 987 612.2 989.7 618.1C992.5 624 995.8 629.5 999.8 634.6C1003.8 639.7 1008.5 644.6 1013.8 648.6C1019.1 652.6 1025.5 656.2 1031.6 658.7C1037.7 661.2 1044.7 662.7 1050.6 663.8C1056.5 664.9 1062.9 665.4 1067.1 665.1C1071.3 664.8 1074.7 663.2 1075.7 662.1C1076.7 661 1075.6 660.8 1073.1 658.3C1070.6 655.8 1064.5 651.4 1060.5 647C1056.5 642.6 1052.3 637.8 1049.2 631.9C1046.1 626 1043.7 618.8 1041.7 611.7C1039.7 604.6 1038 597.1 1037 589.1C1036 581.1 1034.5 572.1 1035.5 563.9C1036.5 555.7 1039.4 547.5 1043 539.9C1046.6 532.2 1052 525.2 1057.1 518C1062.2 510.8 1068.1 503.7 1073.7 496.9C1079.3 490.1 1086.7 483.1 1090.5 477C1094.3 470.9 1095.9 464.4 1096.8 460.6C1097.7 456.8 1096 455.1 1095.8 454Z" fill="#C8E632" stroke="#0b3a26" stroke-width="0.6" stroke-opacity="0.8"/>
<path d="M1033.3 454C1029.3 455.9 1014.8 461.6 1009.3 465.3C1003.8 469 1002.9 472.3 1000.4 476C997.9 479.7 996 483.2 994 487.5C992 491.8 990.1 496.6 988.6 501.7C987.1 506.8 985.8 512.1 984.8 518C983.8 523.9 983 530.6 982.5 537C982 543.4 981.4 549.1 981.5 556.3C981.6 563.5 982.5 572.9 983.3 580C984.1 587.1 984.8 592.6 986.5 599C988.2 605.4 990.6 612.4 993.5 618.1C996.4 623.8 999.9 628.8 1003.7 633.3C1007.5 637.8 1011.6 641.6 1016.3 644.8C1020.9 648 1026.5 650.5 1031.6 652.4C1036.7 654.3 1042.3 655.7 1046.8 656.2C1051.2 656.7 1056.8 656.7 1058.3 655.6C1059.8 654.5 1057.2 652.2 1055.5 649.5C1053.8 646.8 1050.5 643.6 1048 639.4C1045.5 635.2 1042.7 630.2 1040.4 624.3C1038.1 618.4 1035.6 610.9 1034.1 604.2C1032.5 597.5 1031.7 591.1 1031.1 584C1030.5 576.9 1029.2 569.2 1030.6 561.4C1031.9 553.6 1035.5 545 1039.2 537.4C1042.9 529.8 1047.8 522.6 1053 515.5C1058.2 508.4 1064.3 501.5 1070.2 494.9C1076.1 488.3 1084.3 481.4 1088.4 475.7C1092.5 470 1094.1 464.2 1095 460.6C1095.9 457 1094.2 455.1 1094 454Z" fill="#F5A623" stroke="#0b3a26" stroke-width="0.6" stroke-opacity="0.8"/>
<path d="M1034.1 454C1030.2 456.1 1015.9 462.6 1010.5 466.4C1005.1 470.2 1004.3 473.4 1001.8 477C999.3 480.6 997.4 484.1 995.4 488.3C993.4 492.5 991.4 497.3 989.9 502.3C988.4 507.3 987.2 512.7 986.3 518.5C985.3 524.3 984.7 530.7 984.2 537C983.8 543.3 983.1 549.1 983.6 556.3C984.1 563.5 985.9 572.9 987.1 580C988.3 587.1 989.1 592.9 991 599C992.9 605.1 995.9 611.5 998.6 616.8C1001.4 622.1 1004.1 627 1007.5 630.8C1010.9 634.6 1014.9 637.4 1018.9 639.7C1022.9 642 1028.5 644.2 1031.6 644.8C1034.7 645.4 1037 645.2 1037.7 643.5C1038.4 641.8 1036.9 638.4 1035.9 634.4C1034.9 630.4 1033.2 625.2 1031.6 619.3C1030 613.4 1027.8 605.8 1026.5 599.1C1025.2 592.4 1024.1 585.9 1024 579C1023.9 572.1 1024 565 1025.9 557.6C1027.8 550.2 1031.4 542.3 1035.4 534.9C1039.4 527.5 1044.7 520 1050 513C1055.3 506 1061.4 499.2 1067.5 492.8C1073.6 486.4 1082.2 479.8 1086.5 474.4C1090.8 469 1092.3 464 1093.3 460.6C1094.3 457.2 1092.6 455.1 1092.5 454Z" fill="#F04E23" stroke="#0b3a26" stroke-width="0.6" stroke-opacity="0.8"/>
<path d="M1035.4 454C1034.1 455.1 1031.7 458.4 1027.8 460.6C1023.9 462.9 1016 464.6 1012 467.5C1008 470.4 1006 474.4 1003.5 478C1001 481.6 999 484.9 997 489.1C995 493.3 992.9 498 991.4 503C989.9 508 988.9 513.3 988 519C987.1 524.7 986.4 530.8 986 537C985.6 543.2 985.2 549.3 985.7 556.3C986.2 563.3 986.8 571.9 988.8 579C990.8 586.1 994.2 593.1 997.6 599C1001 604.9 1005.5 610.8 1008.9 614.3C1012.2 617.8 1016.2 622.5 1017.7 620C1019.2 617.5 1017.5 605.8 1017.7 599C1017.9 592.2 1018 586.1 1018.8 579C1019.6 571.9 1020.3 563.9 1022.4 556.3C1024.5 548.7 1027.4 541.1 1031.4 533.6C1035.4 526.1 1040.9 518.1 1046.5 511C1052.1 503.9 1058.8 497.1 1065.1 490.8C1071.4 484.5 1080.1 478 1084.5 473C1088.9 468 1090.2 463.8 1091.3 460.6C1092.3 457.4 1090.9 455.1 1090.8 454Z" fill="#ED1C24" stroke="#0b3a26" stroke-width="0.6" stroke-opacity="0.8"/>
<path d="M6 453H68C45 458 25 463 6 468.5Z" fill="#3450AA" stroke="#1a2a80" stroke-width="0.7" stroke-opacity=".7"/>
<path d="M1568 453H1514C1533 458 1550 463 1568 469Z" fill="#3450AA" stroke="#1a2a80" stroke-width="0.7" stroke-opacity=".7"/>
</g>
<rect x="6.5" y="454" width="1560.5" height="231.8" fill="none" stroke="#1c2c6a" stroke-width="0.8" stroke-opacity="0.8"/>
<text x="11" y="502.1" font-size="48" fill="#fff" xml:space="preserve">(b)</text>
<text x="77 124.5 174" y="503.3" font-size="47" fill="#fff" style="font-family:'Liberation Serif','Noto Serif CJK SC',serif">电流为</text>
<text x="223.5" y="502.1" font-size="48" fill="#fff" xml:space="preserve">44</text>
<text x="283" y="502.1" font-size="48" fill="#fff" xml:space="preserve">kA</text>
<text x="1254.5" y="502.1" font-size="48" fill="#fff" font-style="italic" xml:space="preserve">T</text>
<text x="1280" y="509.7" font-size="28.5" fill="#fff" xml:space="preserve">max</text>
<text x="1328.3" y="501.6" font-size="48" fill="#fff" letter-spacing="0.38" xml:space="preserve">=50 986 K</text>
<clipPath id="cp2"><rect x="6.5" y="737.5" width="1560.5" height="232"/></clipPath>
<g clip-path="url(#cp2)">
<rect x="6.5" y="737.5" width="1560.5" height="232" fill="#3C60B8"/>
<path d="M351.5 737.5C349 741.5 341.6 752.2 336.7 761.6C331.8 771 326 783 321.9 793.7C317.8 804.4 314.7 814.7 312 825.8C309.3 836.9 307.2 849.3 305.8 860.4C304.4 871.5 304.1 881 303.3 892.5C302.5 904 301.3 916.7 300.9 929.5C300.5 942.3 300.9 962.8 300.9 969.5L1278.3 969.5C1278.1 962.8 1277.6 942.3 1277 929.5C1276.4 916.7 1275.6 904 1274.6 892.5C1273.6 881 1272.6 871.5 1270.9 860.4C1269.2 849.3 1267.4 836.9 1264.7 825.8C1262 814.7 1258.9 804.4 1254.8 793.7C1250.7 783 1244.9 771 1240 761.6C1235.1 752.2 1227.7 741.5 1225.2 737.5Z" fill="#52B3E8" stroke="#0b3a26" stroke-width="0.85" stroke-opacity="0.85"/>
<path d="M630.9 737.5C634 739.2 642.2 744.6 649.4 748C656.6 751.4 665.8 755.1 674 758C682.2 760.9 690.5 763.1 698.8 765.3C707 767.5 715.3 769.4 723.5 771C731.7 772.6 739.9 774.1 748.1 775.2C756.3 776.3 765 777.2 772.8 777.7C780.6 778.2 786.8 778.6 795 778.2C803.2 777.8 813.6 776.5 822.2 775.2C830.9 773.9 838.7 772.2 846.9 770.3C855.1 768.4 863.4 766.3 871.6 764C879.8 761.7 888.1 759.4 896.3 756.7C904.5 754 913.6 751.2 921 748C928.4 744.8 937.4 739.2 940.7 737.5Z" fill="#3C60B8" stroke="#0b3a26" stroke-width="0.85" stroke-opacity="0.85"/>
<path d="M416.9 737.5C415.5 740.7 411.4 749 408.3 756.7C405.2 764.4 401.3 774.4 398.4 783.9C395.5 793.4 393.3 803.6 391 813.5C388.7 823.4 386.7 833.5 384.8 843C382.9 852.5 382.6 860.8 379.9 870.3C377.2 879.8 372.1 890.4 368.8 899.9C365.5 909.4 362.1 918.8 360 927C357.9 935.2 356.6 942.2 356.4 949.3C356.2 956.4 358.5 966.1 358.9 969.5L1217.8 969.5C1218.4 966.1 1221.5 956.4 1221.5 949.3C1221.5 942.2 1219.9 935.2 1217.8 927C1215.7 918.8 1212 909.4 1209.1 899.9C1206.2 890.4 1203 879.8 1200.5 870.3C1198 860.8 1196.4 852.5 1194.3 843C1192.2 833.5 1190.4 823.4 1188.1 813.5C1185.8 803.6 1183.6 793.4 1180.7 783.9C1177.8 774.4 1174.6 764.4 1170.9 756.7C1167.2 749 1160.6 740.7 1158.5 737.5L980 737.5C978.8 739 976.5 742.4 972.8 746.8C969.1 751.2 964.2 758.2 958 764C951.8 769.8 943.6 776.4 935.8 781.4C928 786.4 919.3 789.6 911.1 793.7C902.9 797.8 893.8 801.5 886.4 806C879 810.5 873.3 815.1 866.7 820.9C860.1 826.7 853.5 834.2 846.9 840.6C840.3 847 833.4 854.5 827.2 859.2C821 863.9 815.3 866.8 809.9 869C804.5 871.2 800.4 872 795 872.2C789.6 872.4 784 872.1 777.8 870.3C771.6 868.5 764.6 865.3 758 861.6C751.4 857.9 744.9 853.1 738.3 848C731.7 842.9 725.1 836.5 718.5 830.8C711.9 825 706.2 819.3 698.8 813.5C691.4 807.7 682.2 801.1 674 796.2C665.8 791.3 657.6 788 649.4 783.9C641.2 779.8 632.9 776.3 624.7 771.5C616.6 766.7 606.8 760.7 600.5 755C594.2 749.3 589.2 740.4 586.9 737.5Z" fill="#70CFC0" stroke="#0b3a26" stroke-width="0.85" stroke-opacity="0.85"/>
<path d="M437.9 737.5C436.9 740.3 433.5 746.9 431.7 754.2C429.9 761.5 428.2 771.1 426.8 781.4C425.4 791.7 423.8 804.9 423 816C422.2 827.1 423.1 840.6 421.9 848C420.7 855.4 419.2 855.4 415.7 860.4C412.2 865.4 405.8 871.5 400.9 877.7C395.9 883.9 390.3 890.9 386 897.4C381.7 903.9 377.6 910.4 374.9 917C372.2 923.6 370.6 930.7 370 936.9C369.4 943.1 369.8 949.3 371.2 954C372.6 958.7 376.1 962.7 378.6 965.3C381.1 967.9 384.8 968.8 386 969.5L717.3 969.5C716.3 967.8 713.6 965.9 711.1 959.2C708.6 952.5 704.4 938.6 702.5 929.5C700.6 920.4 701.5 913.8 700 904.8C698.5 895.8 696.5 884 693.8 875.2C691.1 866.4 687.6 859.2 684 852C680.4 844.8 675.8 837.8 672 832C668.2 826.2 664.1 820.8 661 817C657.9 813.2 656.6 811.9 653.6 809.4C650.6 806.9 646.8 804.5 642.9 802C639 799.5 634.6 796.6 630.5 794.6C626.4 792.6 622.3 791.5 618.2 789.7C614.1 787.9 609.5 786 605.8 783.9C602.1 781.8 598.5 779.6 596 777.3C593.5 775 592.5 772.8 591 769.9C589.5 767 588.1 763.1 586.9 760C585.7 756.9 585.2 753.7 583.6 751C582 748.3 579.1 745.9 577 743.6C574.9 741.4 572 738.5 571 737.5Z" fill="#68C878" stroke="#0b3a26" stroke-width="0.85" stroke-opacity="0.85"/>
<path d="M1137.5 737.5C1139 740.7 1143.7 749 1146.2 756.7C1148.7 764.4 1150.9 774 1152.3 783.9C1153.7 793.8 1154.6 805.3 1154.8 816C1155 826.7 1153.4 840.6 1153.6 848C1153.8 855.4 1153.5 855.4 1156 860.4C1158.5 865.4 1163.9 871.5 1168.4 877.7C1172.9 883.9 1178.9 890.8 1183.2 897.4C1187.5 904 1191.4 910.6 1194.3 917.2C1197.2 923.8 1199.5 930.7 1200.5 936.9C1201.5 943.1 1201.7 949.5 1200.5 954.2C1199.3 958.9 1195.2 962.8 1193.1 965.3C1191 967.8 1188.9 968.8 1188.1 969.5L863 969.5C864.3 965.4 868.3 954.9 871 945C873.7 935.1 876.3 920 879 910C881.7 900 883.8 894.7 887 885C890.2 875.3 894.3 861.2 898 852C901.7 842.8 905.2 836 909 830C912.8 824 916.6 820.5 920.6 816.2C924.6 812 928.9 807.8 932.9 804.5C936.9 801.2 939.9 799 944.4 796.3C948.9 793.5 956.5 790.8 960.1 788C963.7 785.2 963.8 783.2 965.8 779.8C967.8 776.4 970.2 771.5 972.4 767.5C974.6 763.5 976.8 759.6 979 755.9C981.2 752.2 983.4 748.3 985.6 745.2C987.8 742.1 991.1 738.8 992.2 737.5Z" fill="#68C878" stroke="#0b3a26" stroke-width="0.85" stroke-opacity="0.85"/>
<path d="M455.2 737.5C454.6 739.9 452.1 745.7 451.5 751.8C450.9 757.9 450.7 765.8 451.5 774C452.3 782.2 454.5 792 456.4 801C458.2 810 461.2 820.5 462.6 828.3C464 836.1 465.8 842.9 465 848C464.2 853.1 462.2 856.1 457.7 859C453.2 861.9 444.9 862.6 437.9 865.3C430.9 868 422.3 871.1 415.7 875.2C409.1 879.3 403.5 884.2 398.4 890C393.2 895.8 388.3 903.2 384.8 909.8C381.3 916.4 378.8 923.3 377.4 929.5C376 935.7 375.6 941.4 376.2 946.8C376.8 952.1 378.6 957.8 381.1 961.6C383.6 965.4 389.4 968.2 391 969.5L588 969.5C590.9 967.8 599.6 963.8 605.4 959.2C611.2 954.6 617.8 948.1 622.7 941.9C627.6 935.7 631.7 929 635 922C638.3 915 640.8 905.4 642.5 899.9C644.2 894.4 644.7 892.5 645.3 889.2C645.9 885.9 646.2 883.6 646.2 880C646.2 876.4 645.7 871.9 645.3 867.6C644.9 863.3 644.5 858.5 643.7 854.4C642.9 850.3 641.6 846.5 640.4 842.9C639.2 839.3 637.9 836.1 636.3 833C634.6 829.9 632.8 826.6 630.5 824C628.2 821.4 625.3 819 622.3 817.4C619.3 815.8 615.1 815.2 612.4 814.4C609.6 813.6 607.6 813.9 605.8 812.7C604 811.5 603.1 809.6 601.7 807C600.3 804.4 598.8 800.3 597.6 797.1C596.4 793.9 595.4 791 594.3 788C593.2 785 592.2 782 591 779C589.8 776 588.4 773.1 586.9 769.9C585.4 766.7 583.8 763.1 582 760C580.2 756.9 578.3 753.7 576.2 751C574.1 748.3 571.9 745.9 569.6 743.6C567.3 741.4 563.7 738.5 562.5 737.5Z" fill="#62C337" stroke="#0b3a26" stroke-width="0.85" stroke-opacity="0.85"/>
<path d="M467.5 737.5C467.5 740.3 465.9 746.9 467.5 754.2C469.1 761.5 473.3 772.4 477.4 781.4C481.5 790.4 487.9 799.9 492.2 808.5C496.5 817.1 500.4 825.4 503.3 833.2C506.2 841 508.1 848.1 509.5 855.5C510.9 862.9 511.7 871.1 511.5 877.7C511.3 884.3 509.9 891.6 508.3 895C506.7 898.4 505.6 899 502.1 898C498.6 897 493.1 891.3 487.3 888.8C481.5 886.3 474.9 883.8 467.5 883C460.1 882.2 450.6 882.3 442.8 883.9C435 885.5 427.2 888.6 420.6 892.5C414 896.4 408 901.9 403.3 907.3C398.6 912.6 395.1 918.4 392.2 924.6C389.3 930.8 386.2 938.5 386 944.3C385.8 950.1 388.1 955 391 959.2C393.9 963.4 401.2 967.8 403.3 969.5L558.5 969.5C561 968.2 567.1 965 573.3 961.6C579.5 958.2 589 954.2 595.6 949.3C602.2 944.4 608.3 938.2 612.8 932C617.3 925.8 620.4 918.8 622.7 912.2C625 905.6 625.8 897.5 626.4 892.5C627 887.5 626.5 885.9 626.4 882.4C626.3 878.9 626.1 874.4 625.6 871.7C625.1 869 624.3 868.6 623.1 866C621.9 863.4 620.1 859.5 618.2 856.1C616.3 852.7 613.7 849 611.6 845.4C609.5 841.8 607.6 838.6 605.8 834.7C604 830.9 602.4 826.4 600.9 822.3C599.4 818.2 597.9 813 596.8 810C595.7 807 595.4 807.3 594.3 804.5C593.2 801.7 591.6 796.9 590.2 793C588.8 789.1 587.6 785.1 586.1 781.4C584.6 777.7 582.9 774.1 581.2 770.7C579.6 767.3 578 764 576.2 760.9C574.4 757.8 572.7 754.7 570.5 751.8C568.3 748.9 565.5 746 563 743.6C560.5 741.2 556.8 738.5 555.5 737.5Z" fill="#67C531" stroke="#0b3a26" stroke-width="0.85" stroke-opacity="0.85"/>
<path d="M473.3 737.5C473.5 740.2 473.1 748.8 474.5 754C475.9 759.2 477.9 763.4 482 769C486.1 774.6 493.5 781.2 498.8 787.6C504.1 794 509.2 800.5 514 807.3C518.8 814.1 523.6 821.4 527.7 828.3C531.8 835.2 535.9 841.7 538.8 848.5C541.7 855.3 543.7 862.5 545 869C546.3 875.5 546.9 881.6 546.7 887.6C546.5 893.6 546.1 899.2 543.7 904.8C541.4 910.3 537.1 915.9 532.6 920.9C528.1 925.9 522 930.8 516.5 934.5C510.9 938.2 505.5 941.3 499.3 943C493.1 944.7 484.4 945.2 479.5 944.8C474.6 944.4 471.7 943.1 469.6 940.6C467.6 938.1 467.4 932.6 467.2 929.5C467 926.4 469.2 924.2 468.4 922C467.6 919.8 465.3 917.8 462.2 916C459.1 914.2 453.9 911.8 449.9 911C445.8 910.2 442.4 909.5 437.9 911C433.4 912.5 426.9 916.2 423 919.7C419.1 923.2 416 927.5 414.4 932C412.8 936.5 412.2 942.7 413.2 946.8C414.2 950.9 417.5 954.2 420.6 956.7C423.7 959.2 427.9 960.5 432 962C436.1 963.5 439.5 964.8 445 965.5C450.5 966.2 455.8 966.7 465 966.5C474.2 966.3 487.7 965.5 500 964.5C512.3 963.5 528.2 961.9 538.8 960.4C549.4 958.9 555.5 958.2 563.5 955.5C571.5 952.8 581 948.9 587 944.3C593 939.7 596.5 934 599.7 928C603 922 604.8 914.5 606.5 908C608.2 901.5 609.7 894.6 610 889.2C610.3 883.8 609.4 880.8 608.3 875.8C607.2 870.8 605.1 864.9 603.5 859.4C601.9 853.9 600.3 848.4 598.8 842.9C597.3 837.4 595.7 831.8 594.5 826.5C593.3 821.2 592.4 815.3 591.6 811.1C590.8 806.9 590.6 804.8 589.6 801.2C588.6 797.6 587.1 793.5 585.6 789.7C584.1 785.9 582.6 782.1 580.9 778.2C579.2 774.4 577.2 769.9 575.4 766.6C573.6 763.3 572 760.9 570.2 758.4C568.4 755.9 566.3 753.7 564.5 751.8C562.7 749.9 561.5 748.5 559.5 746.9C557.5 745.3 554.9 743.6 552.5 742C550.1 740.4 546.2 738.2 545 737.5Z" fill="#88CE2E" stroke="#0b3a26" stroke-width="0.85" stroke-opacity="0.85"/>
<path d="M477 737.5C477.2 740.1 477 748.1 478.5 753C480 757.9 481.9 761.8 485.9 767.1C489.9 772.5 497.3 778.8 502.7 785.1C508.1 791.4 513.6 798.2 518.5 805.1C523.4 812 528.1 819.3 532.3 826.3C536.5 833.3 540.7 840.2 543.7 847.1C546.7 854 548.6 861 550.1 867.8C551.6 874.5 552.6 881.4 552.6 887.6C552.6 893.8 552.2 899 549.9 904.8C547.6 910.5 543.5 916.5 538.8 922.1C534.1 927.7 527.3 933.7 521.5 938.2C515.7 942.7 509.1 946.4 504.2 949.3C499.3 952.2 492.3 953.9 491.9 955.5C491.5 957.1 495.9 958.3 501.7 958.7C507.4 959.1 518.2 958.4 526.4 957.9C534.6 957.4 543.3 956.9 551.1 955.5C558.9 954.1 566.9 952 573.3 949.3C579.7 946.6 585.8 942.9 589.4 939.4C593 935.9 592.6 933.2 594.8 928C597 922.8 600.5 914.5 602.4 908C604.2 901.5 605.5 894.6 605.9 889.2C606.3 883.8 605.5 880.8 604.7 875.8C603.9 870.8 602.2 864.9 600.9 859.4C599.6 853.9 598 848.4 596.7 842.9C595.4 837.4 594 831.8 592.9 826.5C591.8 821.2 590.9 815.3 590.1 811.1C589.3 806.9 589 804.8 588 801.2C587 797.6 585.5 793.5 584.1 789.7C582.7 785.9 581.2 782.1 579.6 778.2C578 774.4 576 769.9 574.2 766.6C572.4 763.3 570.8 760.9 568.9 758.4C567 755.9 564.6 753.7 562.6 751.8C560.6 749.9 558.9 748.5 556.8 746.9C554.7 745.3 552 743.6 549.8 742C547.6 740.4 544.7 738.2 543.7 737.5Z" fill="#C8E632" stroke="#0b3a26" stroke-width="0.6" stroke-opacity="0.8"/>
<path d="M478.3 737.5C478.6 739.9 478.4 747.2 480 751.8C481.6 756.4 483.6 760 487.7 765.3C491.8 770.6 499.1 777.1 504.7 783.4C510.2 789.7 515.9 796.2 521 803.1C526.1 810 530.8 817.5 535.1 824.6C539.4 831.7 543.6 838.5 546.7 845.6C549.8 852.7 552 860.3 553.6 867.3C555.2 874.3 556.4 881.1 556.5 887.6C556.6 894.1 556.2 900.1 554.1 906.1C552 912.1 548.3 917.9 543.7 923.4C539.1 928.9 531.8 935.3 526.4 939.4C521 943.5 515.2 946 511.6 948C508 950 505.1 950.3 504.7 951.3C504.3 952.3 505.1 953.9 509.1 954.2C513.1 954.5 521.9 953.6 528.9 953C535.9 952.4 544.1 952 551.1 950.5C558.1 949 565.1 946.8 570.9 944.3C576.7 941.8 582.5 938.4 585.7 935.7C588.9 933 587.9 932.6 590 928C592.1 923.4 596.3 914.5 598.3 908C600.3 901.5 601.4 894.6 601.9 889.2C602.4 883.8 601.8 880.8 601.2 875.8C600.6 870.8 599.4 864.9 598.3 859.4C597.2 853.9 595.9 848.4 594.7 842.9C593.5 837.4 592.2 831.8 591.2 826.5C590.2 821.2 589.5 815.3 588.7 811.1C587.9 806.9 587.3 804.8 586.3 801.2C585.3 797.6 584 793.5 582.7 789.7C581.4 785.9 579.9 782.1 578.3 778.2C576.7 774.4 574.8 769.9 573 766.6C571.2 763.3 569.6 760.9 567.6 758.4C565.6 755.9 563 753.7 560.7 751.8C558.5 749.9 556.4 748.5 554.1 746.9C551.8 745.3 548.9 743.6 547.1 742C545.3 740.4 543.9 738.2 543.2 737.5Z" fill="#F5A623" stroke="#0b3a26" stroke-width="0.6" stroke-opacity="0.8"/>
<path d="M479.5 737.5C479.8 739.7 479.9 746.1 481.5 750.5C483.1 754.9 485.2 758.5 489.4 763.6C493.6 768.8 501 775.1 506.7 781.4C512.4 787.6 518.3 794.2 523.5 801.1C528.7 808 533.4 815.7 537.8 822.9C542.2 830.1 546.7 837 549.9 844.3C553.1 851.6 555.2 859.4 557 866.6C558.8 873.8 560.2 880.8 560.5 887.6C560.8 894.4 560.5 901.1 558.5 907.3C556.5 913.5 552.7 919.5 548.6 924.6C544.5 929.8 537.9 934.9 533.8 938.2C529.7 941.5 524.8 942.8 524 944.3C523.2 945.8 525.2 946.9 528.9 947.3C532.6 947.7 540.4 947.7 546.2 946.8C552 945.9 558.1 943.9 563.5 941.9C568.9 939.9 574.7 936.8 578.3 934.5C581.9 932.2 582.3 932.4 584.9 928C587.5 923.6 592 914.5 594.1 908C596.2 901.5 597.1 894.6 597.7 889.2C598.3 883.8 597.9 880.8 597.5 875.8C597.1 870.8 596.4 864.9 595.6 859.4C594.8 853.9 593.5 848.4 592.5 842.9C591.5 837.4 590.4 831.8 589.5 826.5C588.6 821.2 587.9 815.3 587.1 811.1C586.3 806.9 585.6 804.8 584.6 801.2C583.6 797.6 582.4 793.5 581.1 789.7C579.8 785.9 578.5 782.1 576.9 778.2C575.3 774.4 573.6 769.9 571.8 766.6C570 763.3 568.4 760.9 566.2 758.4C564 755.9 561.2 753.7 558.7 751.8C556.2 749.9 553.7 748.5 551.3 746.9C548.9 745.3 546.1 743.6 544.3 742C542.5 740.4 541.1 738.2 540.5 737.5Z" fill="#F04E23" stroke="#0b3a26" stroke-width="0.6" stroke-opacity="0.8"/>
<path d="M480.7 737.5C481.1 739.5 481.3 745.3 483.2 749.3C485.1 753.3 487.6 756.7 491.9 761.6C496.2 766.5 503.4 772.7 509.1 778.9C514.9 785.1 521 791.7 526.4 798.7C531.8 805.7 536.7 813.5 541.2 820.9C545.7 828.3 550.3 835.6 553.6 843C556.9 850.4 559.1 857.9 561 865.3C562.9 872.7 564.1 880.2 564.7 887.6C565.3 895 564.9 902.2 564.7 909.8C564.5 917.4 562.1 929.9 563.5 933.2C564.9 936.5 570 931.8 573.3 929.5C576.6 927.2 580.3 923.8 583.2 919.7C586.1 915.6 588.8 910.6 590.6 904.8C592.5 899 593.7 892 594.3 885C594.9 878 594.7 870.3 594.3 862.9C593.9 855.5 592.9 848 591.9 840.6C590.9 833.2 589.8 825.8 588.1 818.4C586.5 811 584.5 803.6 582 796.2C579.5 788.8 576.4 780.6 573.3 774C570.2 767.4 566.8 761.2 563.5 756.7C560.2 752.2 557.3 749.3 553.6 746.8C549.9 744.3 543.5 743.4 541.2 741.9C538.9 740.4 540.2 738.2 540 737.5Z" fill="#ED1C24" stroke="#0b3a26" stroke-width="0.6" stroke-opacity="0.8"/>
<path d="M1119 737.5C1119.8 740.7 1123 749.4 1124 756.7C1125 764 1126 772.4 1125.2 781.4C1124.4 790.4 1121.5 802 1119 811C1116.5 820 1112.9 828.3 1110.4 835.7C1107.9 843.1 1104.8 850.6 1104.2 855.5C1103.6 860.4 1103.4 862.8 1106.7 865.3C1110 867.8 1117.4 868.6 1124 870.3C1130.6 871.9 1139.2 872.3 1146.2 875.2C1153.2 878.1 1160.2 882.7 1165.9 887.6C1171.7 892.5 1176.6 898.6 1180.7 904.8C1184.8 911 1188.1 918 1190.6 924.6C1193.1 931.2 1195.2 938.5 1195.6 944.3C1196 950.1 1194.8 955 1193.1 959.2C1191.4 963.4 1186.9 967.8 1185.7 969.5L985.1 969.5C982.6 967 975.2 960.9 970.3 954.2C965.4 947.5 959.6 937.7 955.5 929.5C951.4 921.3 948.1 913 945.6 904.8C943.1 896.6 941 888.3 940.2 880.1C939.4 871.9 939.8 862.5 940.7 855.5C941.6 848.5 943.3 843 945.6 838.2C947.9 833.5 952.4 830.7 954.5 827C956.6 823.3 957.5 819.5 958.4 816.2C959.3 812.9 959.4 810 960.1 807C960.8 804 961.7 801.1 962.6 797.9C963.5 794.7 964.3 791.3 965.8 788C967.3 784.7 969.8 781.5 971.6 778.2C973.4 774.9 974.7 771.7 976.5 768.3C978.3 764.9 980 761.2 982.3 757.6C984.6 754 987.4 750.2 990.5 746.9C993.6 743.5 999.4 739.1 1001.2 737.5Z" fill="#62C337" stroke="#0b3a26" stroke-width="0.85" stroke-opacity="0.85"/>
<path d="M1105.4 737.5C1105.7 740.7 1108.2 749.4 1107.2 756.7C1106.2 764 1102.7 773.2 1099.3 781.4C1095.9 789.6 1090.6 797.8 1086.9 806C1083.2 814.2 1079.5 822.5 1077 830.8C1074.5 839 1073 847.3 1072.1 855.5C1071.2 863.7 1071.2 872.3 1071.6 880.1C1072 887.9 1072.7 896.4 1074.6 902.4C1076.5 908.4 1080.1 914 1083.2 916C1086.3 918 1090.8 917 1093.1 914.7C1095.4 912.4 1094.5 906.5 1096.8 902.4C1099.1 898.3 1102.2 893.1 1106.7 890C1111.2 886.9 1117.8 884.7 1124 883.9C1130.2 883.1 1137.5 883.2 1143.7 885.1C1149.9 887 1155.2 890.1 1161 895C1166.8 899.9 1174.5 908.1 1178.3 914.7C1182.1 921.3 1183.2 928.3 1184 934.5C1184.8 940.7 1184.3 946.9 1183 951.8C1181.7 956.7 1178 961 1176 964C1174 967 1171.8 968.6 1170.9 969.5L1071.5 969C1069.5 968.4 1065.4 967.5 1059.2 965.3C1053 963 1042.3 959.4 1034.5 955.5C1026.7 951.6 1019.3 947 1012.3 941.9C1005.3 936.8 998.3 931.2 992.5 924.6C986.7 918 982 911.5 977.7 902.4C973.4 893.3 969.3 879.8 966.6 870.3C963.9 860.8 962.7 853.8 961.7 845.6C960.7 837.4 960 829.1 960.4 820.9C960.8 812.7 962 804.4 964.1 796.2C966.2 788 968.5 778.9 972.8 771.5C977.1 764.1 983.4 757.5 990 751.8C996.6 746.1 1008.6 739.8 1012.3 737.4Z" fill="#67C531" stroke="#0b3a26" stroke-width="0.85" stroke-opacity="0.85"/>
<path d="M1099.9 737.4C1100 739 1101.8 742.8 1100.6 746.8C1099.3 750.8 1095 756.5 1092.4 761.6C1089.8 766.8 1087.9 772.4 1085 777.7C1082.1 783.1 1078.4 788.2 1075.1 793.7C1071.8 799.2 1068 805.2 1065.3 811C1062.6 816.8 1060.3 822.5 1059.1 828.3C1057.9 834.1 1058 839.4 1058.2 845.6C1058.4 851.8 1059 858.7 1060.2 865.3C1061.4 871.9 1063.5 878.5 1065.4 885.1C1067.3 891.7 1068.8 898.6 1071.5 904.8C1074.2 911 1077.3 917.1 1081.4 922.1C1085.5 927.1 1092 931.2 1096.2 934.5C1100.4 937.8 1102.1 941.1 1106.7 941.9C1111.3 942.7 1118.7 941 1124 939.4C1129.3 937.8 1135.1 935.3 1138.8 932C1142.5 928.7 1144.8 923.6 1146.2 919.7C1147.6 915.8 1145.8 910.8 1147.4 908.5C1149 906.2 1153.3 905.8 1156 906C1158.7 906.2 1161.2 907.1 1163.5 909.8C1165.8 912.5 1168.6 917.5 1169.6 922C1170.6 926.5 1170.6 932.5 1169.6 937C1168.6 941.5 1167 945.8 1163.5 949.3C1160 952.8 1154.8 956 1148.6 958C1142.4 960 1134.2 961.2 1126.4 961.6C1118.6 962 1108.9 960.6 1101.7 960.4C1094.5 960.2 1091 961.6 1083.4 960.4C1075.8 959.2 1064.8 956.4 1056.2 953.2C1047.6 950 1039.3 945.8 1032 941.4C1024.7 937 1018.5 932.2 1012.3 926.6C1006.1 921 1000.3 914.7 995 907.8C989.7 900.9 984.6 893.2 980.7 885.1C976.8 877 973.8 868.2 971.8 859.2C969.8 850.2 968.9 839.6 968.6 830.8C968.3 821.9 968.6 814.8 969.8 806.1C971 797.5 973.1 786.7 976 778.9C978.9 771.1 982.8 764.8 987.1 759.2C991.4 753.7 995.6 749.2 1001.9 745.6C1008.1 742 1020.8 738.8 1024.6 737.4Z" fill="#88CE2E" stroke="#0b3a26" stroke-width="0.85" stroke-opacity="0.85"/>
<path d="M1096.7 737.4C1096.8 739 1098.4 743 1097.4 746.8C1096.4 750.6 1093.5 755.5 1090.7 760.4C1087.9 765.3 1084.5 771.2 1080.8 776.4C1077.1 781.5 1072.6 785.9 1068.5 791.3C1064.4 796.6 1059.4 802.5 1056.2 808.5C1053 814.5 1050.6 820.9 1049.2 827.1C1047.8 833.3 1047.8 839.2 1047.9 845.6C1048 852 1048.7 858.7 1049.8 865.3C1050.9 871.9 1052.7 878.5 1054.7 885.1C1056.7 891.7 1058.9 899 1061.7 904.8C1064.5 910.6 1067.8 915.2 1071.5 919.7C1075.2 924.2 1079 928.3 1083.9 932C1088.9 935.7 1095 939 1101.2 941.9C1107.4 944.8 1116 947.6 1120.9 949.3C1125.8 951 1132.8 951.2 1130.8 952.2C1128.8 953.2 1116.4 955.2 1108.6 955.5C1100.8 955.8 1092.1 955.6 1083.9 954.2C1075.7 952.8 1067 950.3 1059.2 947.3C1051.4 944.3 1044 940.6 1037 936.4C1030 932.2 1023.4 927.5 1017.2 922.1C1011 916.8 1005.2 910.9 999.9 904.3C994.5 897.7 989.2 890.3 985.1 882.6C981 874.9 977.6 866.5 975.2 857.9C972.9 849.3 971.5 839.4 971 830.8C970.5 822.2 970.8 814.5 972 806.1C973.2 797.7 975.4 787.7 978.2 780.1C981.1 772.5 984.9 766.2 989.1 760.6C993.3 755 997.4 750.7 1003.6 746.8C1009.9 742.9 1022.8 739 1026.6 737.4Z" fill="#C8E632" stroke="#0b3a26" stroke-width="0.6" stroke-opacity="0.8"/>
<path d="M1095 737.4C1095.1 739 1096.4 743.2 1095.5 746.8C1094.6 750.4 1092.3 754.6 1089.5 759.2C1086.7 763.8 1082.9 769.5 1078.9 774.5C1074.9 779.5 1069.8 783.8 1065.3 789.3C1060.8 794.8 1055.6 801.2 1052.2 807.3C1048.8 813.4 1046.3 819.4 1044.8 825.8C1043.3 832.2 1043.2 839 1043.2 845.6C1043.2 852.2 1043.9 858.7 1045 865.3C1046.1 871.9 1047.8 878.5 1049.8 885.1C1051.8 891.7 1053.9 898.6 1056.7 904.8C1059.5 911 1062.9 917.1 1066.6 922.1C1070.3 927.1 1075.4 931 1078.9 934.5C1082.4 938 1085.9 941.1 1087.6 943.1C1089.2 945.1 1090.6 946 1088.8 946.8C1087 947.6 1081.4 948.6 1076.5 948C1071.6 947.4 1065.4 945.6 1059.2 943.1C1053 940.6 1046 937.1 1039.4 933.2C1032.8 929.3 1025.9 924.8 1019.7 919.7C1013.5 914.6 1007.8 908.8 1002.4 902.4C997 896 991.7 888.6 987.6 881.1C983.5 873.6 980.1 865.8 977.7 857.4C975.3 849 973.9 839.3 973.3 830.8C972.7 822.2 973.1 814.3 974.2 806.1C975.4 797.9 977.5 788.7 980.2 781.4C982.9 774.1 986.4 767.6 990.5 762.1C994.6 756.6 998.7 752.4 1004.9 748.3C1011.1 744.2 1023.8 739.2 1027.6 737.4Z" fill="#F5A623" stroke="#0b3a26" stroke-width="0.6" stroke-opacity="0.8"/>
<path d="M1093.3 737.4C1093.4 739 1094.7 743.4 1093.8 746.8C1092.9 750.2 1090.8 753.6 1088 757.9C1085.2 762.2 1081.2 767.8 1076.9 772.7C1072.6 777.7 1066.8 782.2 1062.1 787.6C1057.4 793 1052.2 798.8 1048.5 804.8C1044.8 810.8 1041.7 816.6 1039.9 823.4C1038.1 830.2 1037.4 837.8 1037.5 845.6C1037.6 853.4 1039.2 862.5 1040.7 870.3C1042.2 878.1 1044.5 885.5 1046.8 892.5C1049 899.5 1051.3 906.4 1054.2 912.2C1057.1 918 1061.2 923.2 1064.1 927.1C1067 931 1070.5 933.9 1071.5 935.7C1072.5 937.6 1072.3 938 1070.3 938.2C1068.2 938.4 1063.9 938.4 1059.2 936.9C1054.5 935.4 1048.1 932.9 1041.9 929.5C1035.7 926.1 1028.3 921.6 1022.1 916.7C1015.9 911.8 1010.2 906.1 1004.9 899.9C999.5 893.7 994.1 886.9 990 879.7C985.9 872.5 982.6 864.9 980.2 856.7C977.8 848.6 976.3 839.2 975.7 830.8C975.1 822.4 975.5 814.1 976.5 806.1C977.5 798.1 979.3 789.7 981.9 782.6C984.5 775.5 988 769.1 992 763.6C996 758.1 1000.1 754.2 1006.1 749.8C1012.1 745.4 1024.6 739.5 1028.3 737.4Z" fill="#F04E23" stroke="#0b3a26" stroke-width="0.6" stroke-opacity="0.8"/>
<path d="M1091.3 737.4C1091.4 739 1092.8 743.6 1091.8 746.8C1090.8 750 1088.5 752.8 1085.6 756.7C1082.7 760.6 1078.9 765.6 1074.4 770.3C1069.9 775 1063.5 779.8 1058.4 785.1C1053.3 790.5 1047.7 796.4 1043.6 802.4C1039.5 808.4 1036 814.1 1033.7 820.9C1031.4 827.7 1030.3 835.7 1029.9 843.1C1029.5 850.5 1030.2 858.3 1031.2 865.3C1032.2 872.3 1033.9 878.5 1035.7 885.1C1037.5 891.7 1040.1 899 1041.9 904.8C1043.8 910.6 1045.8 916.5 1046.8 919.7C1047.8 922.9 1048.9 923.5 1048.1 924.1C1047.3 924.7 1045.8 925.2 1041.9 923.4C1038 921.6 1030.4 917.8 1024.6 913.5C1018.8 909.2 1012.6 903.4 1007.3 897.4C1001.9 891.4 996.6 884.7 992.5 877.7C988.4 870.7 985 863.3 982.6 855.5C980.2 847.7 978.8 839 978.2 830.8C977.6 822.6 978 813.9 978.9 806.1C979.8 798.3 981.4 790.7 983.9 783.9C986.4 777.1 989.9 770.6 993.8 765.3C997.7 759.9 1002.6 755.5 1007.3 751.8C1012 748.1 1018.4 745.5 1022.1 743.1C1025.8 740.7 1028.3 738.4 1029.6 737.4Z" fill="#ED1C24" stroke="#0b3a26" stroke-width="0.6" stroke-opacity="0.8"/>
<path d="M6 736.5H66C45 741.5 25 747 6 753Z" fill="#3450AA" stroke="#1a2a80" stroke-width="0.7" stroke-opacity=".7"/>
<path d="M1568 736.5H1508C1528 741.5 1548 747 1568 753Z" fill="#3450AA" stroke="#1a2a80" stroke-width="0.7" stroke-opacity=".7"/>
</g>
<rect x="6.5" y="737.5" width="1560.5" height="232" fill="none" stroke="#1c2c6a" stroke-width="0.8" stroke-opacity="0.8"/>
<text x="11" y="800.5" font-size="48" fill="#fff" xml:space="preserve">(c)</text>
<text x="77 124.5 174" y="801.7" font-size="47" fill="#fff" style="font-family:'Liberation Serif','Noto Serif CJK SC',serif">电流为</text>
<text x="223.5" y="800.5" font-size="48" fill="#fff" xml:space="preserve">54</text>
<text x="283" y="800.5" font-size="48" fill="#fff" xml:space="preserve">kA</text>
<text x="1254.5" y="800.5" font-size="48" fill="#fff" font-style="italic" xml:space="preserve">T</text>
<text x="1280" y="808.1" font-size="28.5" fill="#fff" xml:space="preserve">max</text>
<text x="1328.3" y="800" font-size="48" fill="#fff" letter-spacing="0.38" xml:space="preserve">=53 636 K</text>
<g transform="translate(766.3 219.7) rotate(0)"><rect x="-12.9" y="-4.6" width="25.9" height="9.2" fill="#fff"/><text x="0" y="3.9" font-size="12" font-weight="bold" text-anchor="middle" fill="#000">3000</text></g>
<g transform="translate(564 314.6) rotate(-50)"><rect x="-16" y="-4.6" width="32" height="9.2" fill="#fff"/><text x="0" y="3.9" font-size="12" font-weight="bold" text-anchor="middle" fill="#000">12000</text></g>
<g transform="translate(604 334.3) rotate(0)"><rect x="-12.9" y="-4.6" width="25.9" height="9.2" fill="#fff"/><text x="0" y="3.9" font-size="12" font-weight="bold" text-anchor="middle" fill="#000">6000</text></g>
<g transform="translate(618 362.9) rotate(0)"><rect x="-12.9" y="-4.6" width="25.9" height="9.2" fill="#fff"/><text x="0" y="3.9" font-size="12" font-weight="bold" text-anchor="middle" fill="#000">5000</text></g>
<g transform="translate(492.4 372.4) rotate(8)"><rect x="-12.9" y="-4.6" width="25.9" height="9.2" fill="#fff"/><text x="0" y="3.9" font-size="12" font-weight="bold" text-anchor="middle" fill="#000">8000</text></g>
<g transform="translate(705.7 370) rotate(80)"><rect x="-12.9" y="-4.6" width="25.9" height="9.2" fill="#fff"/><text x="0" y="3.9" font-size="12" font-weight="bold" text-anchor="middle" fill="#000">4000</text></g>
<g transform="translate(874.2 361) rotate(-75)"><rect x="-12.9" y="-4.6" width="25.9" height="9.2" fill="#fff"/><text x="0" y="3.9" font-size="12" font-weight="bold" text-anchor="middle" fill="#000">4000</text></g>
<g transform="translate(962.9 363.3) rotate(0)"><rect x="-12.9" y="-4.6" width="25.9" height="9.2" fill="#fff"/><text x="0" y="3.9" font-size="12" font-weight="bold" text-anchor="middle" fill="#000">5000</text></g>
<g transform="translate(1015.2 304.8) rotate(-90)"><rect x="-16" y="-4.6" width="32" height="9.2" fill="#fff"/><text x="0" y="3.9" font-size="12" font-weight="bold" text-anchor="middle" fill="#000">12000</text></g>
<g transform="translate(1086 372) rotate(-50)"><rect x="-12.9" y="-4.6" width="25.9" height="9.2" fill="#fff"/><text x="0" y="3.9" font-size="12" font-weight="bold" text-anchor="middle" fill="#000">8000</text></g>
<g transform="translate(777.7 499.2) rotate(0)"><rect x="-12.9" y="-4.6" width="25.9" height="9.2" fill="#fff"/><text x="0" y="3.9" font-size="12" font-weight="bold" text-anchor="middle" fill="#000">3000</text></g>
<g transform="translate(782 602.2) rotate(0)"><rect x="-12.9" y="-4.6" width="25.9" height="9.2" fill="#fff"/><text x="0" y="3.9" font-size="12" font-weight="bold" text-anchor="middle" fill="#000">4000</text></g>
<g transform="translate(692.7 661.7) rotate(0)"><rect x="-12.9" y="-4.6" width="25.9" height="9.2" fill="#fff"/><text x="0" y="3.9" font-size="12" font-weight="bold" text-anchor="middle" fill="#000">5000</text></g>
<g transform="translate(886 650) rotate(0)"><rect x="-12.9" y="-4.6" width="25.9" height="9.2" fill="#fff"/><text x="0" y="3.9" font-size="12" font-weight="bold" text-anchor="middle" fill="#000">5000</text></g>
<g transform="translate(618.1 608) rotate(-80)"><rect x="-12.9" y="-4.6" width="25.9" height="9.2" fill="#fff"/><text x="0" y="3.9" font-size="12" font-weight="bold" text-anchor="middle" fill="#000">7000</text></g>
<g transform="translate(616.4 651.6) rotate(-55)"><rect x="-12.9" y="-4.6" width="25.9" height="9.2" fill="#fff"/><text x="0" y="3.9" font-size="12" font-weight="bold" text-anchor="middle" fill="#000">6000</text></g>
<g transform="translate(965.4 594.7) rotate(80)"><rect x="-12.9" y="-4.6" width="25.9" height="9.2" fill="#fff"/><text x="0" y="3.9" font-size="12" font-weight="bold" text-anchor="middle" fill="#000">7000</text></g>
<g transform="translate(960.9 647) rotate(55)"><rect x="-12.9" y="-4.6" width="25.9" height="9.2" fill="#fff"/><text x="0" y="3.9" font-size="12" font-weight="bold" text-anchor="middle" fill="#000">6000</text></g>
<g transform="translate(555.7 638.2) rotate(28)"><rect x="-16" y="-4.6" width="32" height="9.2" fill="#fff"/><text x="0" y="3.9" font-size="12" font-weight="bold" text-anchor="middle" fill="#000">12000</text></g>
<g transform="translate(490.7 669.2) rotate(-40)"><rect x="-12.9" y="-4.6" width="25.9" height="9.2" fill="#fff"/><text x="0" y="3.9" font-size="12" font-weight="bold" text-anchor="middle" fill="#000">9000</text></g>
<g transform="translate(1015.2 619.3) rotate(-40)"><rect x="-16" y="-4.6" width="32" height="9.2" fill="#fff"/><text x="0" y="3.9" font-size="12" font-weight="bold" text-anchor="middle" fill="#000">12000</text></g>
<g transform="translate(1071 654) rotate(38)"><rect x="-12.9" y="-4.6" width="25.9" height="9.2" fill="#fff"/><text x="0" y="3.9" font-size="12" font-weight="bold" text-anchor="middle" fill="#000">9000</text></g>
<g transform="translate(793.8 783.1) rotate(0)"><rect x="-12.9" y="-4.6" width="25.9" height="9.2" fill="#fff"/><text x="0" y="3.9" font-size="12" font-weight="bold" text-anchor="middle" fill="#000">3000</text></g>
<g transform="translate(779.5 867) rotate(0)"><rect x="-12.9" y="-4.6" width="25.9" height="9.2" fill="#fff"/><text x="0" y="3.9" font-size="12" font-weight="bold" text-anchor="middle" fill="#000">4000</text></g>
<g transform="translate(629.6 874.7) rotate(0)"><rect x="-12.9" y="-4.6" width="25.9" height="9.2" fill="#fff"/><text x="0" y="3.9" font-size="12" font-weight="bold" text-anchor="middle" fill="#000">7000</text></g>
<g transform="translate(619.8 949.3) rotate(0)"><rect x="-12.9" y="-4.6" width="25.9" height="9.2" fill="#fff"/><text x="0" y="3.9" font-size="12" font-weight="bold" text-anchor="middle" fill="#000">6000</text></g>
<g transform="translate(706.7 946.8) rotate(75)"><rect x="-12.9" y="-4.6" width="25.9" height="9.2" fill="#fff"/><text x="0" y="3.9" font-size="12" font-weight="bold" text-anchor="middle" fill="#000">5000</text></g>
<g transform="translate(880.2 943.1) rotate(0)"><rect x="-12.9" y="-4.6" width="25.9" height="9.2" fill="#fff"/><text x="0" y="3.9" font-size="12" font-weight="bold" text-anchor="middle" fill="#000">5000</text></g>
<g transform="translate(972 883.9) rotate(70)"><rect x="-12.9" y="-4.6" width="25.9" height="9.2" fill="#fff"/><text x="0" y="3.9" font-size="12" font-weight="bold" text-anchor="middle" fill="#000">7000</text></g>
<g transform="translate(963 948.8) rotate(63)"><rect x="-12.9" y="-4.6" width="25.9" height="9.2" fill="#fff"/><text x="0" y="3.9" font-size="12" font-weight="bold" text-anchor="middle" fill="#000">6000</text></g>
<g transform="translate(410.7 943.1) rotate(0)"><rect x="-12.9" y="-4.6" width="25.9" height="9.2" fill="#fff"/><text x="0" y="3.9" font-size="12" font-weight="bold" text-anchor="middle" fill="#000">8000</text></g>
<g transform="translate(558.5 928.3) rotate(-72)"><rect x="-16" y="-4.6" width="32" height="9.2" fill="#fff"/><text x="0" y="3.9" font-size="12" font-weight="bold" text-anchor="middle" fill="#000">12000</text></g>
<g transform="translate(1048 920.1) rotate(0)"><rect x="-16" y="-4.6" width="32" height="9.2" fill="#fff"/><text x="0" y="3.9" font-size="12" font-weight="bold" text-anchor="middle" fill="#000">12000</text></g>
<g transform="translate(1170.9 902.4) rotate(58)"><rect x="-12.9" y="-4.6" width="25.9" height="9.2" fill="#fff"/><text x="0" y="3.9" font-size="12" font-weight="bold" text-anchor="middle" fill="#000">7000</text></g>
</svg></body></html>
